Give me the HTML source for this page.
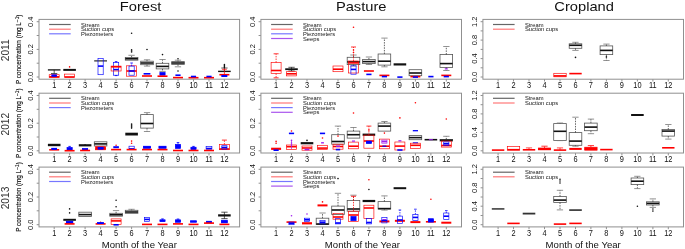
<!DOCTYPE html>
<html><head><meta charset="utf-8"><style>
html,body{margin:0;padding:0;background:#fff;overflow:hidden;}
svg{display:block;font-family:"Liberation Sans", sans-serif;will-change:transform;}
</style></head><body>
<svg width="685" height="249" viewBox="0 0 685 249" fill="#111">
<rect width="685" height="249" fill="#fff"/>
<text transform="translate(140.6,10.9) scale(1.08,1)" font-size="13.6" text-anchor="middle">Forest</text>
<text transform="translate(361.2,10.9) scale(1.08,1)" font-size="13.6" text-anchor="middle">Pasture</text>
<text transform="translate(584.1,10.9) scale(1.08,1)" font-size="13.6" text-anchor="middle">Cropland</text>
<text transform="translate(8.7,50.3) rotate(-90)" font-size="10.2" text-anchor="middle" fill="#333">2011</text>
<text transform="translate(21.2,49.3) rotate(-90)" font-size="6.35" text-anchor="middle" fill="#000" stroke="#000" stroke-width="0.12">P concentration (mg L<tspan dy="-2.4" font-size="4.8">−1</tspan><tspan dy="2.4">)</tspan></text>
<rect x="39.0" y="19.4" width="200.6" height="59.8" fill="none" stroke="#909090" stroke-width="1"/>
<line x1="36.7" y1="77.0" x2="39.0" y2="77.0" stroke="#909090"/>
<text transform="translate(32.8,77.0) rotate(-90)" font-size="7.5" text-anchor="middle">0.0</text>
<line x1="36.7" y1="63.2" x2="39.0" y2="63.2" stroke="#909090"/>
<line x1="36.7" y1="49.4" x2="39.0" y2="49.4" stroke="#909090"/>
<text transform="translate(32.8,49.4) rotate(-90)" font-size="7.5" text-anchor="middle">0.2</text>
<line x1="36.7" y1="35.5" x2="39.0" y2="35.5" stroke="#909090"/>
<line x1="36.7" y1="21.7" x2="39.0" y2="21.7" stroke="#909090"/>
<text transform="translate(32.8,21.7) rotate(-90)" font-size="7.5" text-anchor="middle">0.4</text>
<line x1="54.2" y1="79.2" x2="54.2" y2="81.5" stroke="#909090"/>
<text transform="translate(54.2,87.8) scale(1,1.15)" font-size="7.4" text-anchor="middle">1</text>
<line x1="69.6" y1="79.2" x2="69.6" y2="81.5" stroke="#909090"/>
<text transform="translate(69.6,87.8) scale(1,1.15)" font-size="7.4" text-anchor="middle">2</text>
<line x1="85.1" y1="79.2" x2="85.1" y2="81.5" stroke="#909090"/>
<text transform="translate(85.1,87.8) scale(1,1.15)" font-size="7.4" text-anchor="middle">3</text>
<line x1="100.6" y1="79.2" x2="100.6" y2="81.5" stroke="#909090"/>
<text transform="translate(100.6,87.8) scale(1,1.15)" font-size="7.4" text-anchor="middle">4</text>
<line x1="116.1" y1="79.2" x2="116.1" y2="81.5" stroke="#909090"/>
<text transform="translate(116.1,87.8) scale(1,1.15)" font-size="7.4" text-anchor="middle">5</text>
<line x1="131.6" y1="79.2" x2="131.6" y2="81.5" stroke="#909090"/>
<text transform="translate(131.6,87.8) scale(1,1.15)" font-size="7.4" text-anchor="middle">6</text>
<line x1="147.0" y1="79.2" x2="147.0" y2="81.5" stroke="#909090"/>
<text transform="translate(147.0,87.8) scale(1,1.15)" font-size="7.4" text-anchor="middle">7</text>
<line x1="162.5" y1="79.2" x2="162.5" y2="81.5" stroke="#909090"/>
<text transform="translate(162.5,87.8) scale(1,1.15)" font-size="7.4" text-anchor="middle">8</text>
<line x1="178.0" y1="79.2" x2="178.0" y2="81.5" stroke="#909090"/>
<text transform="translate(178.0,87.8) scale(1,1.15)" font-size="7.4" text-anchor="middle">9</text>
<line x1="193.5" y1="79.2" x2="193.5" y2="81.5" stroke="#909090"/>
<text transform="translate(193.5,87.8) scale(1,1.15)" font-size="7.4" text-anchor="middle">10</text>
<line x1="209.0" y1="79.2" x2="209.0" y2="81.5" stroke="#909090"/>
<text transform="translate(209.0,87.8) scale(1,1.15)" font-size="7.4" text-anchor="middle">11</text>
<line x1="224.4" y1="79.2" x2="224.4" y2="81.5" stroke="#909090"/>
<text transform="translate(224.4,87.8) scale(1,1.15)" font-size="7.4" text-anchor="middle">12</text>
<line x1="49.1" y1="24.5" x2="70.7" y2="24.5" stroke="#666" stroke-width="1.2"/>
<text transform="translate(81.0,26.5) scale(1,1.05)" font-size="5.8" fill="#111">Stream</text>
<line x1="49.1" y1="29.2" x2="70.7" y2="29.2" stroke="#f77" stroke-width="1.2"/>
<text transform="translate(81.0,31.2) scale(1,1.05)" font-size="5.8" fill="#111">Suction cups</text>
<line x1="49.1" y1="33.8" x2="70.7" y2="33.8" stroke="#77f" stroke-width="1.2"/>
<text transform="translate(81.0,35.8) scale(1,1.05)" font-size="5.8" fill="#111">Piezometers</text>
<rect x="260.9" y="19.4" width="200.6" height="59.8" fill="none" stroke="#909090" stroke-width="1"/>
<line x1="258.6" y1="77.0" x2="260.9" y2="77.0" stroke="#909090"/>
<text transform="translate(254.7,77.0) rotate(-90)" font-size="7.5" text-anchor="middle">0.0</text>
<line x1="258.6" y1="63.2" x2="260.9" y2="63.2" stroke="#909090"/>
<line x1="258.6" y1="49.4" x2="260.9" y2="49.4" stroke="#909090"/>
<text transform="translate(254.7,49.4) rotate(-90)" font-size="7.5" text-anchor="middle">0.2</text>
<line x1="258.6" y1="35.5" x2="260.9" y2="35.5" stroke="#909090"/>
<line x1="258.6" y1="21.7" x2="260.9" y2="21.7" stroke="#909090"/>
<text transform="translate(254.7,21.7) rotate(-90)" font-size="7.5" text-anchor="middle">0.4</text>
<line x1="276.1" y1="79.2" x2="276.1" y2="81.5" stroke="#909090"/>
<text transform="translate(276.1,87.8) scale(1,1.15)" font-size="7.4" text-anchor="middle">1</text>
<line x1="291.5" y1="79.2" x2="291.5" y2="81.5" stroke="#909090"/>
<text transform="translate(291.5,87.8) scale(1,1.15)" font-size="7.4" text-anchor="middle">2</text>
<line x1="307.0" y1="79.2" x2="307.0" y2="81.5" stroke="#909090"/>
<text transform="translate(307.0,87.8) scale(1,1.15)" font-size="7.4" text-anchor="middle">3</text>
<line x1="322.5" y1="79.2" x2="322.5" y2="81.5" stroke="#909090"/>
<text transform="translate(322.5,87.8) scale(1,1.15)" font-size="7.4" text-anchor="middle">4</text>
<line x1="338.0" y1="79.2" x2="338.0" y2="81.5" stroke="#909090"/>
<text transform="translate(338.0,87.8) scale(1,1.15)" font-size="7.4" text-anchor="middle">5</text>
<line x1="353.5" y1="79.2" x2="353.5" y2="81.5" stroke="#909090"/>
<text transform="translate(353.5,87.8) scale(1,1.15)" font-size="7.4" text-anchor="middle">6</text>
<line x1="368.9" y1="79.2" x2="368.9" y2="81.5" stroke="#909090"/>
<text transform="translate(368.9,87.8) scale(1,1.15)" font-size="7.4" text-anchor="middle">7</text>
<line x1="384.4" y1="79.2" x2="384.4" y2="81.5" stroke="#909090"/>
<text transform="translate(384.4,87.8) scale(1,1.15)" font-size="7.4" text-anchor="middle">8</text>
<line x1="399.9" y1="79.2" x2="399.9" y2="81.5" stroke="#909090"/>
<text transform="translate(399.9,87.8) scale(1,1.15)" font-size="7.4" text-anchor="middle">9</text>
<line x1="415.4" y1="79.2" x2="415.4" y2="81.5" stroke="#909090"/>
<text transform="translate(415.4,87.8) scale(1,1.15)" font-size="7.4" text-anchor="middle">10</text>
<line x1="430.9" y1="79.2" x2="430.9" y2="81.5" stroke="#909090"/>
<text transform="translate(430.9,87.8) scale(1,1.15)" font-size="7.4" text-anchor="middle">11</text>
<line x1="446.3" y1="79.2" x2="446.3" y2="81.5" stroke="#909090"/>
<text transform="translate(446.3,87.8) scale(1,1.15)" font-size="7.4" text-anchor="middle">12</text>
<line x1="271.1" y1="24.5" x2="292.7" y2="24.5" stroke="#666" stroke-width="1.2"/>
<text transform="translate(302.9,26.5) scale(1,1.05)" font-size="5.8" fill="#111">Stream</text>
<line x1="271.1" y1="29.2" x2="292.7" y2="29.2" stroke="#f77" stroke-width="1.2"/>
<text transform="translate(302.9,31.2) scale(1,1.05)" font-size="5.8" fill="#111">Suction cups</text>
<line x1="271.1" y1="33.8" x2="292.7" y2="33.8" stroke="#77f" stroke-width="1.2"/>
<text transform="translate(302.9,35.8) scale(1,1.05)" font-size="5.8" fill="#111">Piezometers</text>
<line x1="271.1" y1="38.5" x2="292.7" y2="38.5" stroke="#a5e" stroke-width="1.2"/>
<text transform="translate(302.9,40.5) scale(1,1.05)" font-size="5.8" fill="#111">Seeps</text>
<rect x="482.9" y="19.4" width="200.6" height="59.8" fill="none" stroke="#909090" stroke-width="1"/>
<line x1="480.6" y1="77.0" x2="482.9" y2="77.0" stroke="#909090"/>
<text transform="translate(476.7,77.0) rotate(-90)" font-size="7.5" text-anchor="middle">0.0</text>
<line x1="480.6" y1="67.8" x2="482.9" y2="67.8" stroke="#909090"/>
<line x1="480.6" y1="58.6" x2="482.9" y2="58.6" stroke="#909090"/>
<text transform="translate(476.7,58.6) rotate(-90)" font-size="7.5" text-anchor="middle">0.4</text>
<line x1="480.6" y1="49.4" x2="482.9" y2="49.4" stroke="#909090"/>
<line x1="480.6" y1="40.1" x2="482.9" y2="40.1" stroke="#909090"/>
<text transform="translate(476.7,40.1) rotate(-90)" font-size="7.5" text-anchor="middle">0.8</text>
<line x1="480.6" y1="30.9" x2="482.9" y2="30.9" stroke="#909090"/>
<line x1="480.6" y1="21.7" x2="482.9" y2="21.7" stroke="#909090"/>
<text transform="translate(476.7,21.7) rotate(-90)" font-size="7.5" text-anchor="middle">1.2</text>
<line x1="498.1" y1="79.2" x2="498.1" y2="81.5" stroke="#909090"/>
<text transform="translate(498.1,87.8) scale(1,1.15)" font-size="7.4" text-anchor="middle">1</text>
<line x1="513.5" y1="79.2" x2="513.5" y2="81.5" stroke="#909090"/>
<text transform="translate(513.5,87.8) scale(1,1.15)" font-size="7.4" text-anchor="middle">2</text>
<line x1="529.0" y1="79.2" x2="529.0" y2="81.5" stroke="#909090"/>
<text transform="translate(529.0,87.8) scale(1,1.15)" font-size="7.4" text-anchor="middle">3</text>
<line x1="544.5" y1="79.2" x2="544.5" y2="81.5" stroke="#909090"/>
<text transform="translate(544.5,87.8) scale(1,1.15)" font-size="7.4" text-anchor="middle">4</text>
<line x1="560.0" y1="79.2" x2="560.0" y2="81.5" stroke="#909090"/>
<text transform="translate(560.0,87.8) scale(1,1.15)" font-size="7.4" text-anchor="middle">5</text>
<line x1="575.5" y1="79.2" x2="575.5" y2="81.5" stroke="#909090"/>
<text transform="translate(575.5,87.8) scale(1,1.15)" font-size="7.4" text-anchor="middle">6</text>
<line x1="590.9" y1="79.2" x2="590.9" y2="81.5" stroke="#909090"/>
<text transform="translate(590.9,87.8) scale(1,1.15)" font-size="7.4" text-anchor="middle">7</text>
<line x1="606.4" y1="79.2" x2="606.4" y2="81.5" stroke="#909090"/>
<text transform="translate(606.4,87.8) scale(1,1.15)" font-size="7.4" text-anchor="middle">8</text>
<line x1="621.9" y1="79.2" x2="621.9" y2="81.5" stroke="#909090"/>
<text transform="translate(621.9,87.8) scale(1,1.15)" font-size="7.4" text-anchor="middle">9</text>
<line x1="637.4" y1="79.2" x2="637.4" y2="81.5" stroke="#909090"/>
<text transform="translate(637.4,87.8) scale(1,1.15)" font-size="7.4" text-anchor="middle">10</text>
<line x1="652.9" y1="79.2" x2="652.9" y2="81.5" stroke="#909090"/>
<text transform="translate(652.9,87.8) scale(1,1.15)" font-size="7.4" text-anchor="middle">11</text>
<line x1="668.3" y1="79.2" x2="668.3" y2="81.5" stroke="#909090"/>
<text transform="translate(668.3,87.8) scale(1,1.15)" font-size="7.4" text-anchor="middle">12</text>
<line x1="493.0" y1="24.5" x2="514.6" y2="24.5" stroke="#666" stroke-width="1.2"/>
<text transform="translate(524.9,26.5) scale(1,1.05)" font-size="5.8" fill="#111">Stream</text>
<line x1="493.0" y1="29.2" x2="514.6" y2="29.2" stroke="#f77" stroke-width="1.2"/>
<text transform="translate(524.9,31.2) scale(1,1.05)" font-size="5.8" fill="#111">Suction cups</text>
<text transform="translate(8.7,124.2) rotate(-90)" font-size="10.2" text-anchor="middle" fill="#333">2012</text>
<text transform="translate(21.2,123.2) rotate(-90)" font-size="6.35" text-anchor="middle" fill="#000" stroke="#000" stroke-width="0.12">P concentration (mg L<tspan dy="-2.4" font-size="4.8">−1</tspan><tspan dy="2.4">)</tspan></text>
<rect x="39.0" y="93.2" width="200.6" height="59.8" fill="none" stroke="#909090" stroke-width="1"/>
<line x1="36.7" y1="150.8" x2="39.0" y2="150.8" stroke="#909090"/>
<text transform="translate(32.8,150.8) rotate(-90)" font-size="7.5" text-anchor="middle">0.0</text>
<line x1="36.7" y1="137.0" x2="39.0" y2="137.0" stroke="#909090"/>
<line x1="36.7" y1="123.2" x2="39.0" y2="123.2" stroke="#909090"/>
<text transform="translate(32.8,123.2) rotate(-90)" font-size="7.5" text-anchor="middle">0.2</text>
<line x1="36.7" y1="109.3" x2="39.0" y2="109.3" stroke="#909090"/>
<line x1="36.7" y1="95.5" x2="39.0" y2="95.5" stroke="#909090"/>
<text transform="translate(32.8,95.5) rotate(-90)" font-size="7.5" text-anchor="middle">0.4</text>
<line x1="54.2" y1="153.1" x2="54.2" y2="155.4" stroke="#909090"/>
<text transform="translate(54.2,161.7) scale(1,1.15)" font-size="7.4" text-anchor="middle">1</text>
<line x1="69.6" y1="153.1" x2="69.6" y2="155.4" stroke="#909090"/>
<text transform="translate(69.6,161.7) scale(1,1.15)" font-size="7.4" text-anchor="middle">2</text>
<line x1="85.1" y1="153.1" x2="85.1" y2="155.4" stroke="#909090"/>
<text transform="translate(85.1,161.7) scale(1,1.15)" font-size="7.4" text-anchor="middle">3</text>
<line x1="100.6" y1="153.1" x2="100.6" y2="155.4" stroke="#909090"/>
<text transform="translate(100.6,161.7) scale(1,1.15)" font-size="7.4" text-anchor="middle">4</text>
<line x1="116.1" y1="153.1" x2="116.1" y2="155.4" stroke="#909090"/>
<text transform="translate(116.1,161.7) scale(1,1.15)" font-size="7.4" text-anchor="middle">5</text>
<line x1="131.6" y1="153.1" x2="131.6" y2="155.4" stroke="#909090"/>
<text transform="translate(131.6,161.7) scale(1,1.15)" font-size="7.4" text-anchor="middle">6</text>
<line x1="147.0" y1="153.1" x2="147.0" y2="155.4" stroke="#909090"/>
<text transform="translate(147.0,161.7) scale(1,1.15)" font-size="7.4" text-anchor="middle">7</text>
<line x1="162.5" y1="153.1" x2="162.5" y2="155.4" stroke="#909090"/>
<text transform="translate(162.5,161.7) scale(1,1.15)" font-size="7.4" text-anchor="middle">8</text>
<line x1="178.0" y1="153.1" x2="178.0" y2="155.4" stroke="#909090"/>
<text transform="translate(178.0,161.7) scale(1,1.15)" font-size="7.4" text-anchor="middle">9</text>
<line x1="193.5" y1="153.1" x2="193.5" y2="155.4" stroke="#909090"/>
<text transform="translate(193.5,161.7) scale(1,1.15)" font-size="7.4" text-anchor="middle">10</text>
<line x1="209.0" y1="153.1" x2="209.0" y2="155.4" stroke="#909090"/>
<text transform="translate(209.0,161.7) scale(1,1.15)" font-size="7.4" text-anchor="middle">11</text>
<line x1="224.4" y1="153.1" x2="224.4" y2="155.4" stroke="#909090"/>
<text transform="translate(224.4,161.7) scale(1,1.15)" font-size="7.4" text-anchor="middle">12</text>
<line x1="49.1" y1="98.3" x2="70.7" y2="98.3" stroke="#666" stroke-width="1.2"/>
<text transform="translate(81.0,100.3) scale(1,1.05)" font-size="5.8" fill="#111">Stream</text>
<line x1="49.1" y1="103.0" x2="70.7" y2="103.0" stroke="#f77" stroke-width="1.2"/>
<text transform="translate(81.0,105.0) scale(1,1.05)" font-size="5.8" fill="#111">Suction cups</text>
<line x1="49.1" y1="107.6" x2="70.7" y2="107.6" stroke="#77f" stroke-width="1.2"/>
<text transform="translate(81.0,109.6) scale(1,1.05)" font-size="5.8" fill="#111">Piezometers</text>
<rect x="260.9" y="93.2" width="200.6" height="59.8" fill="none" stroke="#909090" stroke-width="1"/>
<line x1="258.6" y1="150.8" x2="260.9" y2="150.8" stroke="#909090"/>
<text transform="translate(254.7,150.8) rotate(-90)" font-size="7.5" text-anchor="middle">0.0</text>
<line x1="258.6" y1="137.0" x2="260.9" y2="137.0" stroke="#909090"/>
<line x1="258.6" y1="123.2" x2="260.9" y2="123.2" stroke="#909090"/>
<text transform="translate(254.7,123.2) rotate(-90)" font-size="7.5" text-anchor="middle">0.2</text>
<line x1="258.6" y1="109.3" x2="260.9" y2="109.3" stroke="#909090"/>
<line x1="258.6" y1="95.5" x2="260.9" y2="95.5" stroke="#909090"/>
<text transform="translate(254.7,95.5) rotate(-90)" font-size="7.5" text-anchor="middle">0.4</text>
<line x1="276.1" y1="153.1" x2="276.1" y2="155.4" stroke="#909090"/>
<text transform="translate(276.1,161.7) scale(1,1.15)" font-size="7.4" text-anchor="middle">1</text>
<line x1="291.5" y1="153.1" x2="291.5" y2="155.4" stroke="#909090"/>
<text transform="translate(291.5,161.7) scale(1,1.15)" font-size="7.4" text-anchor="middle">2</text>
<line x1="307.0" y1="153.1" x2="307.0" y2="155.4" stroke="#909090"/>
<text transform="translate(307.0,161.7) scale(1,1.15)" font-size="7.4" text-anchor="middle">3</text>
<line x1="322.5" y1="153.1" x2="322.5" y2="155.4" stroke="#909090"/>
<text transform="translate(322.5,161.7) scale(1,1.15)" font-size="7.4" text-anchor="middle">4</text>
<line x1="338.0" y1="153.1" x2="338.0" y2="155.4" stroke="#909090"/>
<text transform="translate(338.0,161.7) scale(1,1.15)" font-size="7.4" text-anchor="middle">5</text>
<line x1="353.5" y1="153.1" x2="353.5" y2="155.4" stroke="#909090"/>
<text transform="translate(353.5,161.7) scale(1,1.15)" font-size="7.4" text-anchor="middle">6</text>
<line x1="368.9" y1="153.1" x2="368.9" y2="155.4" stroke="#909090"/>
<text transform="translate(368.9,161.7) scale(1,1.15)" font-size="7.4" text-anchor="middle">7</text>
<line x1="384.4" y1="153.1" x2="384.4" y2="155.4" stroke="#909090"/>
<text transform="translate(384.4,161.7) scale(1,1.15)" font-size="7.4" text-anchor="middle">8</text>
<line x1="399.9" y1="153.1" x2="399.9" y2="155.4" stroke="#909090"/>
<text transform="translate(399.9,161.7) scale(1,1.15)" font-size="7.4" text-anchor="middle">9</text>
<line x1="415.4" y1="153.1" x2="415.4" y2="155.4" stroke="#909090"/>
<text transform="translate(415.4,161.7) scale(1,1.15)" font-size="7.4" text-anchor="middle">10</text>
<line x1="430.9" y1="153.1" x2="430.9" y2="155.4" stroke="#909090"/>
<text transform="translate(430.9,161.7) scale(1,1.15)" font-size="7.4" text-anchor="middle">11</text>
<line x1="446.3" y1="153.1" x2="446.3" y2="155.4" stroke="#909090"/>
<text transform="translate(446.3,161.7) scale(1,1.15)" font-size="7.4" text-anchor="middle">12</text>
<line x1="271.1" y1="98.3" x2="292.7" y2="98.3" stroke="#666" stroke-width="1.2"/>
<text transform="translate(302.9,100.3) scale(1,1.05)" font-size="5.8" fill="#111">Stream</text>
<line x1="271.1" y1="103.0" x2="292.7" y2="103.0" stroke="#f77" stroke-width="1.2"/>
<text transform="translate(302.9,105.0) scale(1,1.05)" font-size="5.8" fill="#111">Suction cups</text>
<line x1="271.1" y1="107.6" x2="292.7" y2="107.6" stroke="#77f" stroke-width="1.2"/>
<text transform="translate(302.9,109.6) scale(1,1.05)" font-size="5.8" fill="#111">Piezometers</text>
<line x1="271.1" y1="112.3" x2="292.7" y2="112.3" stroke="#a5e" stroke-width="1.2"/>
<text transform="translate(302.9,114.3) scale(1,1.05)" font-size="5.8" fill="#111">Seeps</text>
<rect x="482.9" y="93.2" width="200.6" height="59.8" fill="none" stroke="#909090" stroke-width="1"/>
<line x1="480.6" y1="150.8" x2="482.9" y2="150.8" stroke="#909090"/>
<text transform="translate(476.7,150.8) rotate(-90)" font-size="7.5" text-anchor="middle">0.0</text>
<line x1="480.6" y1="141.6" x2="482.9" y2="141.6" stroke="#909090"/>
<line x1="480.6" y1="132.4" x2="482.9" y2="132.4" stroke="#909090"/>
<text transform="translate(476.7,132.4) rotate(-90)" font-size="7.5" text-anchor="middle">0.4</text>
<line x1="480.6" y1="123.2" x2="482.9" y2="123.2" stroke="#909090"/>
<line x1="480.6" y1="113.9" x2="482.9" y2="113.9" stroke="#909090"/>
<text transform="translate(476.7,113.9) rotate(-90)" font-size="7.5" text-anchor="middle">0.8</text>
<line x1="480.6" y1="104.7" x2="482.9" y2="104.7" stroke="#909090"/>
<line x1="480.6" y1="95.5" x2="482.9" y2="95.5" stroke="#909090"/>
<text transform="translate(476.7,95.5) rotate(-90)" font-size="7.5" text-anchor="middle">1.2</text>
<line x1="498.1" y1="153.1" x2="498.1" y2="155.4" stroke="#909090"/>
<text transform="translate(498.1,161.7) scale(1,1.15)" font-size="7.4" text-anchor="middle">1</text>
<line x1="513.5" y1="153.1" x2="513.5" y2="155.4" stroke="#909090"/>
<text transform="translate(513.5,161.7) scale(1,1.15)" font-size="7.4" text-anchor="middle">2</text>
<line x1="529.0" y1="153.1" x2="529.0" y2="155.4" stroke="#909090"/>
<text transform="translate(529.0,161.7) scale(1,1.15)" font-size="7.4" text-anchor="middle">3</text>
<line x1="544.5" y1="153.1" x2="544.5" y2="155.4" stroke="#909090"/>
<text transform="translate(544.5,161.7) scale(1,1.15)" font-size="7.4" text-anchor="middle">4</text>
<line x1="560.0" y1="153.1" x2="560.0" y2="155.4" stroke="#909090"/>
<text transform="translate(560.0,161.7) scale(1,1.15)" font-size="7.4" text-anchor="middle">5</text>
<line x1="575.5" y1="153.1" x2="575.5" y2="155.4" stroke="#909090"/>
<text transform="translate(575.5,161.7) scale(1,1.15)" font-size="7.4" text-anchor="middle">6</text>
<line x1="590.9" y1="153.1" x2="590.9" y2="155.4" stroke="#909090"/>
<text transform="translate(590.9,161.7) scale(1,1.15)" font-size="7.4" text-anchor="middle">7</text>
<line x1="606.4" y1="153.1" x2="606.4" y2="155.4" stroke="#909090"/>
<text transform="translate(606.4,161.7) scale(1,1.15)" font-size="7.4" text-anchor="middle">8</text>
<line x1="621.9" y1="153.1" x2="621.9" y2="155.4" stroke="#909090"/>
<text transform="translate(621.9,161.7) scale(1,1.15)" font-size="7.4" text-anchor="middle">9</text>
<line x1="637.4" y1="153.1" x2="637.4" y2="155.4" stroke="#909090"/>
<text transform="translate(637.4,161.7) scale(1,1.15)" font-size="7.4" text-anchor="middle">10</text>
<line x1="652.9" y1="153.1" x2="652.9" y2="155.4" stroke="#909090"/>
<text transform="translate(652.9,161.7) scale(1,1.15)" font-size="7.4" text-anchor="middle">11</text>
<line x1="668.3" y1="153.1" x2="668.3" y2="155.4" stroke="#909090"/>
<text transform="translate(668.3,161.7) scale(1,1.15)" font-size="7.4" text-anchor="middle">12</text>
<line x1="493.0" y1="98.3" x2="514.6" y2="98.3" stroke="#666" stroke-width="1.2"/>
<text transform="translate(524.9,100.3) scale(1,1.05)" font-size="5.8" fill="#111">Stream</text>
<line x1="493.0" y1="103.0" x2="514.6" y2="103.0" stroke="#f77" stroke-width="1.2"/>
<text transform="translate(524.9,105.0) scale(1,1.05)" font-size="5.8" fill="#111">Suction cups</text>
<text transform="translate(8.7,198.0) rotate(-90)" font-size="10.2" text-anchor="middle" fill="#333">2013</text>
<text transform="translate(21.2,197.0) rotate(-90)" font-size="6.35" text-anchor="middle" fill="#000" stroke="#000" stroke-width="0.12">P concentration (mg L<tspan dy="-2.4" font-size="4.8">−1</tspan><tspan dy="2.4">)</tspan></text>
<rect x="39.0" y="167.1" width="200.6" height="59.8" fill="none" stroke="#909090" stroke-width="1"/>
<line x1="36.7" y1="224.7" x2="39.0" y2="224.7" stroke="#909090"/>
<text transform="translate(32.8,224.7) rotate(-90)" font-size="7.5" text-anchor="middle">0.0</text>
<line x1="36.7" y1="210.8" x2="39.0" y2="210.8" stroke="#909090"/>
<line x1="36.7" y1="197.0" x2="39.0" y2="197.0" stroke="#909090"/>
<text transform="translate(32.8,197.0) rotate(-90)" font-size="7.5" text-anchor="middle">0.2</text>
<line x1="36.7" y1="183.2" x2="39.0" y2="183.2" stroke="#909090"/>
<line x1="36.7" y1="169.3" x2="39.0" y2="169.3" stroke="#909090"/>
<text transform="translate(32.8,169.3) rotate(-90)" font-size="7.5" text-anchor="middle">0.4</text>
<line x1="54.2" y1="226.9" x2="54.2" y2="229.2" stroke="#909090"/>
<text transform="translate(54.2,235.5) scale(1,1.15)" font-size="7.4" text-anchor="middle">1</text>
<line x1="69.6" y1="226.9" x2="69.6" y2="229.2" stroke="#909090"/>
<text transform="translate(69.6,235.5) scale(1,1.15)" font-size="7.4" text-anchor="middle">2</text>
<line x1="85.1" y1="226.9" x2="85.1" y2="229.2" stroke="#909090"/>
<text transform="translate(85.1,235.5) scale(1,1.15)" font-size="7.4" text-anchor="middle">3</text>
<line x1="100.6" y1="226.9" x2="100.6" y2="229.2" stroke="#909090"/>
<text transform="translate(100.6,235.5) scale(1,1.15)" font-size="7.4" text-anchor="middle">4</text>
<line x1="116.1" y1="226.9" x2="116.1" y2="229.2" stroke="#909090"/>
<text transform="translate(116.1,235.5) scale(1,1.15)" font-size="7.4" text-anchor="middle">5</text>
<line x1="131.6" y1="226.9" x2="131.6" y2="229.2" stroke="#909090"/>
<text transform="translate(131.6,235.5) scale(1,1.15)" font-size="7.4" text-anchor="middle">6</text>
<line x1="147.0" y1="226.9" x2="147.0" y2="229.2" stroke="#909090"/>
<text transform="translate(147.0,235.5) scale(1,1.15)" font-size="7.4" text-anchor="middle">7</text>
<line x1="162.5" y1="226.9" x2="162.5" y2="229.2" stroke="#909090"/>
<text transform="translate(162.5,235.5) scale(1,1.15)" font-size="7.4" text-anchor="middle">8</text>
<line x1="178.0" y1="226.9" x2="178.0" y2="229.2" stroke="#909090"/>
<text transform="translate(178.0,235.5) scale(1,1.15)" font-size="7.4" text-anchor="middle">9</text>
<line x1="193.5" y1="226.9" x2="193.5" y2="229.2" stroke="#909090"/>
<text transform="translate(193.5,235.5) scale(1,1.15)" font-size="7.4" text-anchor="middle">10</text>
<line x1="209.0" y1="226.9" x2="209.0" y2="229.2" stroke="#909090"/>
<text transform="translate(209.0,235.5) scale(1,1.15)" font-size="7.4" text-anchor="middle">11</text>
<line x1="224.4" y1="226.9" x2="224.4" y2="229.2" stroke="#909090"/>
<text transform="translate(224.4,235.5) scale(1,1.15)" font-size="7.4" text-anchor="middle">12</text>
<line x1="49.1" y1="172.2" x2="70.7" y2="172.2" stroke="#666" stroke-width="1.2"/>
<text transform="translate(81.0,174.2) scale(1,1.05)" font-size="5.8" fill="#111">Stream</text>
<line x1="49.1" y1="176.8" x2="70.7" y2="176.8" stroke="#f77" stroke-width="1.2"/>
<text transform="translate(81.0,178.8) scale(1,1.05)" font-size="5.8" fill="#111">Suction cups</text>
<line x1="49.1" y1="181.5" x2="70.7" y2="181.5" stroke="#77f" stroke-width="1.2"/>
<text transform="translate(81.0,183.5) scale(1,1.05)" font-size="5.8" fill="#111">Piezometers</text>
<rect x="260.9" y="167.1" width="200.6" height="59.8" fill="none" stroke="#909090" stroke-width="1"/>
<line x1="258.6" y1="224.7" x2="260.9" y2="224.7" stroke="#909090"/>
<text transform="translate(254.7,224.7) rotate(-90)" font-size="7.5" text-anchor="middle">0.0</text>
<line x1="258.6" y1="210.8" x2="260.9" y2="210.8" stroke="#909090"/>
<line x1="258.6" y1="197.0" x2="260.9" y2="197.0" stroke="#909090"/>
<text transform="translate(254.7,197.0) rotate(-90)" font-size="7.5" text-anchor="middle">0.2</text>
<line x1="258.6" y1="183.2" x2="260.9" y2="183.2" stroke="#909090"/>
<line x1="258.6" y1="169.3" x2="260.9" y2="169.3" stroke="#909090"/>
<text transform="translate(254.7,169.3) rotate(-90)" font-size="7.5" text-anchor="middle">0.4</text>
<line x1="276.1" y1="226.9" x2="276.1" y2="229.2" stroke="#909090"/>
<text transform="translate(276.1,235.5) scale(1,1.15)" font-size="7.4" text-anchor="middle">1</text>
<line x1="291.5" y1="226.9" x2="291.5" y2="229.2" stroke="#909090"/>
<text transform="translate(291.5,235.5) scale(1,1.15)" font-size="7.4" text-anchor="middle">2</text>
<line x1="307.0" y1="226.9" x2="307.0" y2="229.2" stroke="#909090"/>
<text transform="translate(307.0,235.5) scale(1,1.15)" font-size="7.4" text-anchor="middle">3</text>
<line x1="322.5" y1="226.9" x2="322.5" y2="229.2" stroke="#909090"/>
<text transform="translate(322.5,235.5) scale(1,1.15)" font-size="7.4" text-anchor="middle">4</text>
<line x1="338.0" y1="226.9" x2="338.0" y2="229.2" stroke="#909090"/>
<text transform="translate(338.0,235.5) scale(1,1.15)" font-size="7.4" text-anchor="middle">5</text>
<line x1="353.5" y1="226.9" x2="353.5" y2="229.2" stroke="#909090"/>
<text transform="translate(353.5,235.5) scale(1,1.15)" font-size="7.4" text-anchor="middle">6</text>
<line x1="368.9" y1="226.9" x2="368.9" y2="229.2" stroke="#909090"/>
<text transform="translate(368.9,235.5) scale(1,1.15)" font-size="7.4" text-anchor="middle">7</text>
<line x1="384.4" y1="226.9" x2="384.4" y2="229.2" stroke="#909090"/>
<text transform="translate(384.4,235.5) scale(1,1.15)" font-size="7.4" text-anchor="middle">8</text>
<line x1="399.9" y1="226.9" x2="399.9" y2="229.2" stroke="#909090"/>
<text transform="translate(399.9,235.5) scale(1,1.15)" font-size="7.4" text-anchor="middle">9</text>
<line x1="415.4" y1="226.9" x2="415.4" y2="229.2" stroke="#909090"/>
<text transform="translate(415.4,235.5) scale(1,1.15)" font-size="7.4" text-anchor="middle">10</text>
<line x1="430.9" y1="226.9" x2="430.9" y2="229.2" stroke="#909090"/>
<text transform="translate(430.9,235.5) scale(1,1.15)" font-size="7.4" text-anchor="middle">11</text>
<line x1="446.3" y1="226.9" x2="446.3" y2="229.2" stroke="#909090"/>
<text transform="translate(446.3,235.5) scale(1,1.15)" font-size="7.4" text-anchor="middle">12</text>
<line x1="271.1" y1="172.2" x2="292.7" y2="172.2" stroke="#666" stroke-width="1.2"/>
<text transform="translate(302.9,174.2) scale(1,1.05)" font-size="5.8" fill="#111">Stream</text>
<line x1="271.1" y1="176.8" x2="292.7" y2="176.8" stroke="#f77" stroke-width="1.2"/>
<text transform="translate(302.9,178.8) scale(1,1.05)" font-size="5.8" fill="#111">Suction cups</text>
<line x1="271.1" y1="181.5" x2="292.7" y2="181.5" stroke="#77f" stroke-width="1.2"/>
<text transform="translate(302.9,183.5) scale(1,1.05)" font-size="5.8" fill="#111">Piezometers</text>
<line x1="271.1" y1="186.1" x2="292.7" y2="186.1" stroke="#a5e" stroke-width="1.2"/>
<text transform="translate(302.9,188.1) scale(1,1.05)" font-size="5.8" fill="#111">Seeps</text>
<rect x="482.9" y="167.1" width="200.6" height="59.8" fill="none" stroke="#909090" stroke-width="1"/>
<line x1="480.6" y1="224.7" x2="482.9" y2="224.7" stroke="#909090"/>
<text transform="translate(476.7,224.7) rotate(-90)" font-size="7.5" text-anchor="middle">0.0</text>
<line x1="480.6" y1="215.5" x2="482.9" y2="215.5" stroke="#909090"/>
<line x1="480.6" y1="206.2" x2="482.9" y2="206.2" stroke="#909090"/>
<text transform="translate(476.7,206.2) rotate(-90)" font-size="7.5" text-anchor="middle">0.4</text>
<line x1="480.6" y1="197.0" x2="482.9" y2="197.0" stroke="#909090"/>
<line x1="480.6" y1="187.8" x2="482.9" y2="187.8" stroke="#909090"/>
<text transform="translate(476.7,187.8) rotate(-90)" font-size="7.5" text-anchor="middle">0.8</text>
<line x1="480.6" y1="178.5" x2="482.9" y2="178.5" stroke="#909090"/>
<line x1="480.6" y1="169.3" x2="482.9" y2="169.3" stroke="#909090"/>
<text transform="translate(476.7,169.3) rotate(-90)" font-size="7.5" text-anchor="middle">1.2</text>
<line x1="498.1" y1="226.9" x2="498.1" y2="229.2" stroke="#909090"/>
<text transform="translate(498.1,235.5) scale(1,1.15)" font-size="7.4" text-anchor="middle">1</text>
<line x1="513.5" y1="226.9" x2="513.5" y2="229.2" stroke="#909090"/>
<text transform="translate(513.5,235.5) scale(1,1.15)" font-size="7.4" text-anchor="middle">2</text>
<line x1="529.0" y1="226.9" x2="529.0" y2="229.2" stroke="#909090"/>
<text transform="translate(529.0,235.5) scale(1,1.15)" font-size="7.4" text-anchor="middle">3</text>
<line x1="544.5" y1="226.9" x2="544.5" y2="229.2" stroke="#909090"/>
<text transform="translate(544.5,235.5) scale(1,1.15)" font-size="7.4" text-anchor="middle">4</text>
<line x1="560.0" y1="226.9" x2="560.0" y2="229.2" stroke="#909090"/>
<text transform="translate(560.0,235.5) scale(1,1.15)" font-size="7.4" text-anchor="middle">5</text>
<line x1="575.5" y1="226.9" x2="575.5" y2="229.2" stroke="#909090"/>
<text transform="translate(575.5,235.5) scale(1,1.15)" font-size="7.4" text-anchor="middle">6</text>
<line x1="590.9" y1="226.9" x2="590.9" y2="229.2" stroke="#909090"/>
<text transform="translate(590.9,235.5) scale(1,1.15)" font-size="7.4" text-anchor="middle">7</text>
<line x1="606.4" y1="226.9" x2="606.4" y2="229.2" stroke="#909090"/>
<text transform="translate(606.4,235.5) scale(1,1.15)" font-size="7.4" text-anchor="middle">8</text>
<line x1="621.9" y1="226.9" x2="621.9" y2="229.2" stroke="#909090"/>
<text transform="translate(621.9,235.5) scale(1,1.15)" font-size="7.4" text-anchor="middle">9</text>
<line x1="637.4" y1="226.9" x2="637.4" y2="229.2" stroke="#909090"/>
<text transform="translate(637.4,235.5) scale(1,1.15)" font-size="7.4" text-anchor="middle">10</text>
<line x1="652.9" y1="226.9" x2="652.9" y2="229.2" stroke="#909090"/>
<text transform="translate(652.9,235.5) scale(1,1.15)" font-size="7.4" text-anchor="middle">11</text>
<line x1="668.3" y1="226.9" x2="668.3" y2="229.2" stroke="#909090"/>
<text transform="translate(668.3,235.5) scale(1,1.15)" font-size="7.4" text-anchor="middle">12</text>
<line x1="493.0" y1="172.2" x2="514.6" y2="172.2" stroke="#666" stroke-width="1.2"/>
<text transform="translate(524.9,174.2) scale(1,1.05)" font-size="5.8" fill="#111">Stream</text>
<line x1="493.0" y1="176.8" x2="514.6" y2="176.8" stroke="#f77" stroke-width="1.2"/>
<text transform="translate(524.9,178.8) scale(1,1.05)" font-size="5.8" fill="#111">Suction cups</text>
<line x1="47.9" y1="69.9" x2="60.5" y2="69.9" stroke="#111" stroke-width="1.3"/>
<line x1="54.2" y1="69.9" x2="54.2" y2="73.5" stroke="#111" stroke-width="0.7"/>
<line x1="51.0" y1="73.5" x2="57.3" y2="73.5" stroke="#111" stroke-width="0.7"/>
<rect x="49.2" y="74.7" width="10.0" height="2.8" fill="none" stroke="#f00" stroke-width="0.65"/>
<line x1="49.2" y1="76.8" x2="59.2" y2="76.8" stroke="#f00" stroke-width="1.6"/>
<rect x="51.8" y="74.9" width="4.8" height="1.4" fill="#00f" stroke="#00f" stroke-width="0.65"/>
<line x1="51.8" y1="75.6" x2="56.6" y2="75.6" stroke="#00f" stroke-width="1.6"/>
<line x1="63.3" y1="69.9" x2="75.9" y2="69.9" stroke="#111" stroke-width="2.0"/>
<rect x="64.6" y="74.1" width="10.0" height="3.0" fill="none" stroke="#f00" stroke-width="0.65"/>
<line x1="64.6" y1="77.0" x2="74.6" y2="77.0" stroke="#f00" stroke-width="1.6"/>
<circle cx="69.6" cy="66.9" r="0.8" fill="#f00"/>
<line x1="94.2" y1="60.9" x2="107.0" y2="60.9" stroke="#111" stroke-width="1.1"/>
<rect x="98.0" y="58.6" width="5.2" height="16.1" fill="none" stroke="#00f" stroke-width="0.65"/>
<line x1="98.0" y1="66.1" x2="103.2" y2="66.1" stroke="#00f" stroke-width="1.6"/>
<rect x="113.5" y="62.6" width="5.2" height="12.6" fill="none" stroke="#00f" stroke-width="0.65"/>
<line x1="113.5" y1="69.6" x2="118.7" y2="69.6" stroke="#00f" stroke-width="1.6"/>
<line x1="116.1" y1="62.6" x2="116.1" y2="61.6" stroke="#00f" stroke-width="0.75" stroke-dasharray="1.5 1.1"/>
<line x1="114.8" y1="61.6" x2="117.4" y2="61.6" stroke="#00f" stroke-width="0.8"/>
<line x1="116.1" y1="75.2" x2="116.1" y2="75.6" stroke="#00f" stroke-width="0.75" stroke-dasharray="1.5 1.1"/>
<line x1="114.8" y1="75.6" x2="117.4" y2="75.6" stroke="#00f" stroke-width="0.8"/>
<rect x="111.1" y="66.1" width="10.0" height="4.9" fill="none" stroke="#f00" stroke-width="0.65"/>
<line x1="111.1" y1="66.8" x2="121.1" y2="66.8" stroke="#f00" stroke-width="1.6"/>
<rect x="125.3" y="57.4" width="12.6" height="2.8" fill="none" stroke="#555" stroke-width="0.8"/>
<line x1="125.3" y1="58.8" x2="137.9" y2="58.8" stroke="#111" stroke-width="1.6"/>
<line x1="131.6" y1="57.4" x2="131.6" y2="55.3" stroke="#333" stroke-width="0.75" stroke-dasharray="1.5 1.1"/>
<line x1="128.4" y1="55.3" x2="134.7" y2="55.3" stroke="#777" stroke-width="0.8"/>
<circle cx="131.6" cy="49.9" r="0.8" fill="#111"/>
<circle cx="131.6" cy="51.0" r="0.8" fill="#111"/>
<circle cx="131.6" cy="52.0" r="0.8" fill="#111"/>
<circle cx="131.6" cy="33.2" r="0.8" fill="#111"/>
<rect x="126.6" y="65.8" width="10.0" height="10.4" fill="none" stroke="#f00" stroke-width="0.65"/>
<line x1="126.6" y1="71.0" x2="136.6" y2="71.0" stroke="#f00" stroke-width="1.6"/>
<rect x="129.0" y="66.1" width="5.2" height="9.1" fill="none" stroke="#00f" stroke-width="0.65"/>
<line x1="129.0" y1="71.0" x2="134.2" y2="71.0" stroke="#00f" stroke-width="1.6"/>
<line x1="131.6" y1="66.1" x2="131.6" y2="63.0" stroke="#00f" stroke-width="0.75" stroke-dasharray="1.5 1.1"/>
<line x1="130.3" y1="63.0" x2="132.9" y2="63.0" stroke="#00f" stroke-width="0.8"/>
<rect x="140.7" y="61.2" width="12.6" height="3.5" fill="none" stroke="#555" stroke-width="0.8"/>
<line x1="140.7" y1="63.0" x2="153.3" y2="63.0" stroke="#111" stroke-width="1.6"/>
<line x1="147.0" y1="61.2" x2="147.0" y2="59.8" stroke="#333" stroke-width="0.75" stroke-dasharray="1.5 1.1"/>
<line x1="143.9" y1="59.8" x2="150.2" y2="59.8" stroke="#777" stroke-width="0.8"/>
<line x1="147.0" y1="64.7" x2="147.0" y2="66.1" stroke="#333" stroke-width="0.75" stroke-dasharray="1.5 1.1"/>
<line x1="143.9" y1="66.1" x2="150.2" y2="66.1" stroke="#777" stroke-width="0.8"/>
<circle cx="147.0" cy="49.5" r="0.8" fill="#111"/>
<line x1="143.6" y1="73.8" x2="150.4" y2="73.8" stroke="#00f" stroke-width="1.6"/>
<line x1="142.0" y1="76.0" x2="152.0" y2="76.0" stroke="#f00" stroke-width="1.6"/>
<rect x="156.2" y="63.3" width="12.6" height="5.6" fill="none" stroke="#555" stroke-width="0.8"/>
<line x1="156.2" y1="66.4" x2="168.8" y2="66.4" stroke="#111" stroke-width="1.6"/>
<line x1="162.5" y1="63.3" x2="162.5" y2="59.5" stroke="#333" stroke-width="0.75" stroke-dasharray="1.5 1.1"/>
<line x1="159.4" y1="59.5" x2="165.7" y2="59.5" stroke="#777" stroke-width="0.8"/>
<line x1="162.5" y1="68.9" x2="162.5" y2="71.4" stroke="#333" stroke-width="0.75" stroke-dasharray="1.5 1.1"/>
<line x1="159.4" y1="71.4" x2="165.7" y2="71.4" stroke="#777" stroke-width="0.8"/>
<circle cx="162.5" cy="54.6" r="0.8" fill="#111"/>
<rect x="159.9" y="72.4" width="5.2" height="2.8" fill="#00f" stroke="#00f" stroke-width="0.65"/>
<line x1="159.9" y1="74.0" x2="165.1" y2="74.0" stroke="#00f" stroke-width="1.6"/>
<line x1="157.5" y1="76.2" x2="167.5" y2="76.2" stroke="#f00" stroke-width="1.6"/>
<rect x="171.7" y="61.6" width="12.6" height="2.8" fill="none" stroke="#555" stroke-width="0.8"/>
<line x1="171.7" y1="63.0" x2="184.3" y2="63.0" stroke="#111" stroke-width="1.6"/>
<line x1="178.0" y1="61.6" x2="178.0" y2="60.2" stroke="#333" stroke-width="0.75" stroke-dasharray="1.5 1.1"/>
<line x1="174.8" y1="60.2" x2="181.1" y2="60.2" stroke="#777" stroke-width="0.8"/>
<line x1="178.0" y1="64.4" x2="178.0" y2="66.8" stroke="#333" stroke-width="0.75" stroke-dasharray="1.5 1.1"/>
<line x1="174.8" y1="66.8" x2="181.1" y2="66.8" stroke="#777" stroke-width="0.8"/>
<circle cx="178.0" cy="58.8" r="0.8" fill="#111"/>
<circle cx="178.0" cy="71.0" r="0.8" fill="#111"/>
<line x1="175.4" y1="75.2" x2="180.6" y2="75.2" stroke="#00f" stroke-width="1.6"/>
<line x1="173.0" y1="77.6" x2="183.0" y2="77.6" stroke="#f00" stroke-width="1.6"/>
<line x1="188.5" y1="77.7" x2="198.5" y2="77.7" stroke="#f00" stroke-width="1.6"/>
<line x1="190.9" y1="76.5" x2="196.1" y2="76.5" stroke="#00f" stroke-width="1.6"/>
<line x1="204.0" y1="77.7" x2="214.0" y2="77.7" stroke="#f00" stroke-width="1.6"/>
<line x1="206.4" y1="76.5" x2="211.6" y2="76.5" stroke="#00f" stroke-width="1.6"/>
<line x1="218.1" y1="71.4" x2="230.7" y2="71.4" stroke="#111" stroke-width="1.4"/>
<line x1="224.4" y1="71.4" x2="224.4" y2="68.0" stroke="#111" stroke-width="0.7"/>
<line x1="221.3" y1="68.0" x2="227.6" y2="68.0" stroke="#111" stroke-width="0.7"/>
<circle cx="224.4" cy="64.5" r="0.8" fill="#111"/>
<circle cx="224.4" cy="65.5" r="0.8" fill="#111"/>
<circle cx="224.4" cy="66.5" r="0.8" fill="#111"/>
<circle cx="224.4" cy="67.5" r="0.8" fill="#111"/>
<line x1="219.4" y1="74.7" x2="229.4" y2="74.7" stroke="#f00" stroke-width="1.6"/>
<line x1="224.4" y1="74.7" x2="224.4" y2="69.3" stroke="#f00" stroke-width="0.7"/>
<line x1="221.9" y1="69.3" x2="226.9" y2="69.3" stroke="#f00" stroke-width="0.7"/>
<rect x="221.8" y="75.3" width="5.2" height="1.4" fill="#00f" stroke="#00f" stroke-width="0.65"/>
<line x1="221.8" y1="76.0" x2="227.0" y2="76.0" stroke="#00f" stroke-width="1.6"/>
<rect x="271.1" y="62.6" width="10.0" height="10.8" fill="none" stroke="#f00" stroke-width="0.65"/>
<line x1="271.1" y1="70.5" x2="281.1" y2="70.5" stroke="#f00" stroke-width="1.6"/>
<line x1="276.1" y1="62.6" x2="276.1" y2="53.8" stroke="#f00" stroke-width="0.75" stroke-dasharray="1.5 1.1"/>
<line x1="273.6" y1="53.8" x2="278.6" y2="53.8" stroke="#f00" stroke-width="0.8"/>
<line x1="276.1" y1="73.4" x2="276.1" y2="77.8" stroke="#f00" stroke-width="0.75" stroke-dasharray="1.5 1.1"/>
<line x1="273.6" y1="77.8" x2="278.6" y2="77.8" stroke="#f00" stroke-width="0.8"/>
<line x1="285.2" y1="69.2" x2="297.8" y2="69.2" stroke="#111" stroke-width="1.8"/>
<line x1="291.5" y1="69.2" x2="291.5" y2="67.3" stroke="#111" stroke-width="0.7"/>
<line x1="288.4" y1="67.3" x2="294.7" y2="67.3" stroke="#111" stroke-width="0.7"/>
<line x1="291.5" y1="69.2" x2="291.5" y2="71.0" stroke="#111" stroke-width="0.7"/>
<line x1="288.4" y1="71.0" x2="294.7" y2="71.0" stroke="#111" stroke-width="0.7"/>
<rect x="286.5" y="71.7" width="10.0" height="4.2" fill="none" stroke="#f00" stroke-width="0.65"/>
<line x1="286.5" y1="73.8" x2="296.5" y2="73.8" stroke="#f00" stroke-width="1.6"/>
<rect x="333.0" y="66.0" width="10.0" height="5.7" fill="none" stroke="#f00" stroke-width="0.65"/>
<line x1="333.0" y1="69.2" x2="343.0" y2="69.2" stroke="#f00" stroke-width="1.6"/>
<rect x="347.2" y="57.3" width="12.6" height="7.3" fill="none" stroke="#555" stroke-width="0.8"/>
<line x1="347.2" y1="61.9" x2="359.8" y2="61.9" stroke="#111" stroke-width="1.6"/>
<line x1="353.5" y1="57.3" x2="353.5" y2="55.0" stroke="#333" stroke-width="0.75" stroke-dasharray="1.5 1.1"/>
<line x1="350.3" y1="55.0" x2="356.6" y2="55.0" stroke="#777" stroke-width="0.8"/>
<line x1="353.5" y1="64.6" x2="353.5" y2="66.0" stroke="#333" stroke-width="0.75" stroke-dasharray="1.5 1.1"/>
<line x1="350.3" y1="66.0" x2="356.6" y2="66.0" stroke="#777" stroke-width="0.8"/>
<rect x="348.5" y="61.0" width="10.0" height="12.0" fill="none" stroke="#f00" stroke-width="0.65"/>
<line x1="348.5" y1="62.9" x2="358.5" y2="62.9" stroke="#f00" stroke-width="1.6"/>
<line x1="353.5" y1="61.0" x2="353.5" y2="47.0" stroke="#f00" stroke-width="0.75" stroke-dasharray="1.5 1.1"/>
<line x1="351.0" y1="47.0" x2="356.0" y2="47.0" stroke="#f00" stroke-width="0.8"/>
<circle cx="353.5" cy="27.2" r="0.8" fill="#f00"/>
<circle cx="353.5" cy="50.0" r="0.8" fill="#f00"/>
<circle cx="353.5" cy="52.5" r="0.8" fill="#f00"/>
<rect x="350.9" y="65.8" width="5.2" height="8.4" fill="none" stroke="#00f" stroke-width="0.65"/>
<line x1="350.9" y1="69.4" x2="356.1" y2="69.4" stroke="#00f" stroke-width="1.6"/>
<rect x="362.6" y="59.4" width="12.6" height="4.2" fill="none" stroke="#555" stroke-width="0.8"/>
<line x1="362.6" y1="61.6" x2="375.2" y2="61.6" stroke="#111" stroke-width="1.6"/>
<line x1="368.9" y1="59.4" x2="368.9" y2="57.0" stroke="#333" stroke-width="0.75" stroke-dasharray="1.5 1.1"/>
<line x1="365.8" y1="57.0" x2="372.1" y2="57.0" stroke="#777" stroke-width="0.8"/>
<line x1="368.9" y1="63.6" x2="368.9" y2="64.5" stroke="#333" stroke-width="0.75" stroke-dasharray="1.5 1.1"/>
<line x1="365.8" y1="64.5" x2="372.1" y2="64.5" stroke="#777" stroke-width="0.8"/>
<line x1="363.9" y1="71.0" x2="373.9" y2="71.0" stroke="#f00" stroke-width="1.6"/>
<line x1="366.3" y1="74.4" x2="371.5" y2="74.4" stroke="#00f" stroke-width="1.6"/>
<rect x="378.1" y="54.0" width="12.6" height="11.1" fill="none" stroke="#555" stroke-width="0.8"/>
<line x1="378.1" y1="61.2" x2="390.7" y2="61.2" stroke="#111" stroke-width="1.6"/>
<line x1="384.4" y1="54.0" x2="384.4" y2="38.1" stroke="#333" stroke-width="0.75" stroke-dasharray="1.5 1.1"/>
<line x1="381.3" y1="38.1" x2="387.6" y2="38.1" stroke="#777" stroke-width="0.8"/>
<line x1="384.4" y1="65.1" x2="384.4" y2="66.8" stroke="#333" stroke-width="0.75" stroke-dasharray="1.5 1.1"/>
<line x1="381.3" y1="66.8" x2="387.6" y2="66.8" stroke="#777" stroke-width="0.8"/>
<line x1="379.4" y1="75.4" x2="389.4" y2="75.4" stroke="#f00" stroke-width="1.6"/>
<line x1="381.8" y1="76.6" x2="387.0" y2="76.6" stroke="#00f" stroke-width="1.6"/>
<line x1="393.6" y1="64.4" x2="406.2" y2="64.4" stroke="#111" stroke-width="2.2"/>
<line x1="397.3" y1="77.1" x2="402.5" y2="77.1" stroke="#00f" stroke-width="1.6"/>
<rect x="409.1" y="69.7" width="12.6" height="6.0" fill="none" stroke="#555" stroke-width="0.8"/>
<line x1="409.1" y1="73.0" x2="421.7" y2="73.0" stroke="#111" stroke-width="1.6"/>
<line x1="410.4" y1="76.6" x2="420.4" y2="76.6" stroke="#f00" stroke-width="1.6"/>
<line x1="412.8" y1="77.1" x2="418.0" y2="77.1" stroke="#00f" stroke-width="1.6"/>
<line x1="428.3" y1="76.6" x2="433.5" y2="76.6" stroke="#00f" stroke-width="1.6"/>
<rect x="440.0" y="54.5" width="12.6" height="13.0" fill="none" stroke="#555" stroke-width="0.8"/>
<line x1="440.0" y1="63.6" x2="452.6" y2="63.6" stroke="#111" stroke-width="1.6"/>
<line x1="446.3" y1="54.5" x2="446.3" y2="46.5" stroke="#333" stroke-width="0.75" stroke-dasharray="1.5 1.1"/>
<line x1="443.2" y1="46.5" x2="449.5" y2="46.5" stroke="#777" stroke-width="0.8"/>
<line x1="446.3" y1="67.5" x2="446.3" y2="70.5" stroke="#333" stroke-width="0.75" stroke-dasharray="1.5 1.1"/>
<line x1="443.2" y1="70.5" x2="449.5" y2="70.5" stroke="#777" stroke-width="0.8"/>
<line x1="444.8" y1="68.9" x2="447.8" y2="68.9" stroke="#a020f0" stroke-width="1.2"/>
<line x1="441.3" y1="75.4" x2="451.3" y2="75.4" stroke="#f00" stroke-width="1.6"/>
<line x1="443.7" y1="76.6" x2="448.9" y2="76.6" stroke="#00f" stroke-width="1.6"/>
<rect x="553.8" y="73.3" width="12.4" height="3.5" fill="none" stroke="#f00" stroke-width="0.65"/>
<line x1="553.8" y1="75.9" x2="566.2" y2="75.9" stroke="#f00" stroke-width="1.6"/>
<rect x="569.2" y="43.8" width="12.6" height="4.5" fill="none" stroke="#555" stroke-width="0.8"/>
<line x1="569.2" y1="45.3" x2="581.8" y2="45.3" stroke="#111" stroke-width="1.6"/>
<line x1="575.5" y1="43.8" x2="575.5" y2="42.3" stroke="#333" stroke-width="0.75" stroke-dasharray="1.5 1.1"/>
<line x1="572.3" y1="42.3" x2="578.6" y2="42.3" stroke="#777" stroke-width="0.8"/>
<line x1="575.5" y1="48.3" x2="575.5" y2="50.4" stroke="#333" stroke-width="0.75" stroke-dasharray="1.5 1.1"/>
<line x1="572.3" y1="50.4" x2="578.6" y2="50.4" stroke="#777" stroke-width="0.8"/>
<circle cx="575.5" cy="57.4" r="0.8" fill="#111"/>
<line x1="569.3" y1="73.6" x2="581.7" y2="73.6" stroke="#f00" stroke-width="1.6"/>
<rect x="600.1" y="45.9" width="12.6" height="8.7" fill="none" stroke="#555" stroke-width="0.8"/>
<line x1="600.1" y1="50.4" x2="612.7" y2="50.4" stroke="#111" stroke-width="1.6"/>
<line x1="606.4" y1="45.9" x2="606.4" y2="44.1" stroke="#333" stroke-width="0.75" stroke-dasharray="1.5 1.1"/>
<line x1="603.3" y1="44.1" x2="609.6" y2="44.1" stroke="#777" stroke-width="0.8"/>
<line x1="606.4" y1="54.6" x2="606.4" y2="60.5" stroke="#333" stroke-width="0.75" stroke-dasharray="1.5 1.1"/>
<line x1="603.3" y1="60.5" x2="609.6" y2="60.5" stroke="#777" stroke-width="0.8"/>
<circle cx="606.4" cy="56.9" r="0.8" fill="#111"/>
<line x1="47.9" y1="145.0" x2="60.5" y2="145.0" stroke="#111" stroke-width="2.4"/>
<line x1="49.2" y1="149.8" x2="59.2" y2="149.8" stroke="#f00" stroke-width="1.6"/>
<rect x="51.7" y="148.2" width="5.0" height="1.2" fill="#00f" stroke="#00f" stroke-width="0.65"/>
<line x1="51.7" y1="148.8" x2="56.7" y2="148.8" stroke="#00f" stroke-width="1.6"/>
<rect x="67.0" y="147.4" width="5.2" height="2.6" fill="#00f" stroke="#00f" stroke-width="0.65"/>
<line x1="67.0" y1="148.7" x2="72.2" y2="148.7" stroke="#00f" stroke-width="1.6"/>
<line x1="69.6" y1="147.4" x2="69.6" y2="146.4" stroke="#00f" stroke-width="0.75" stroke-dasharray="1.5 1.1"/>
<line x1="68.3" y1="146.4" x2="70.9" y2="146.4" stroke="#00f" stroke-width="0.8"/>
<line x1="64.6" y1="150.7" x2="74.6" y2="150.7" stroke="#f00" stroke-width="1.6"/>
<line x1="78.8" y1="145.3" x2="91.4" y2="145.3" stroke="#111" stroke-width="2.2"/>
<circle cx="85.1" cy="145.0" r="0.8" fill="#111"/>
<rect x="82.5" y="148.6" width="5.2" height="1.4" fill="#00f" stroke="#00f" stroke-width="0.65"/>
<line x1="82.5" y1="149.3" x2="87.7" y2="149.3" stroke="#00f" stroke-width="1.6"/>
<line x1="80.1" y1="150.5" x2="90.1" y2="150.5" stroke="#f00" stroke-width="1.6"/>
<rect x="94.3" y="141.8" width="12.6" height="4.2" fill="none" stroke="#555" stroke-width="0.8"/>
<line x1="94.3" y1="143.9" x2="106.9" y2="143.9" stroke="#111" stroke-width="1.6"/>
<rect x="95.6" y="146.7" width="10.0" height="3.1" fill="#f00" stroke="#f00" stroke-width="0.65"/>
<line x1="95.6" y1="148.5" x2="105.6" y2="148.5" stroke="#f00" stroke-width="1.6"/>
<rect x="98.0" y="147.2" width="5.2" height="2.0" fill="#00f" stroke="#00f" stroke-width="0.65"/>
<line x1="98.0" y1="148.2" x2="103.2" y2="148.2" stroke="#00f" stroke-width="1.6"/>
<line x1="113.3" y1="147.2" x2="118.9" y2="147.2" stroke="#00f" stroke-width="2.0"/>
<line x1="111.1" y1="149.6" x2="121.1" y2="149.6" stroke="#f00" stroke-width="1.6"/>
<circle cx="116.1" cy="145.2" r="0.8" fill="#f00"/>
<line x1="125.3" y1="134.1" x2="137.9" y2="134.1" stroke="#111" stroke-width="2.8"/>
<circle cx="131.6" cy="124.1" r="0.8" fill="#111"/>
<circle cx="131.6" cy="125.1" r="0.8" fill="#111"/>
<circle cx="131.6" cy="126.1" r="0.8" fill="#111"/>
<circle cx="131.6" cy="127.1" r="0.8" fill="#111"/>
<circle cx="131.6" cy="128.1" r="0.8" fill="#111"/>
<rect x="129.0" y="146.2" width="5.2" height="3.4" fill="none" stroke="#00f" stroke-width="0.65"/>
<line x1="129.0" y1="148.9" x2="134.2" y2="148.9" stroke="#00f" stroke-width="1.6"/>
<line x1="126.6" y1="149.6" x2="136.6" y2="149.6" stroke="#f00" stroke-width="1.6"/>
<circle cx="131.6" cy="141.1" r="0.8" fill="#f00"/>
<circle cx="131.6" cy="143.2" r="0.8" fill="#f00"/>
<rect x="140.7" y="114.6" width="12.6" height="13.5" fill="none" stroke="#555" stroke-width="0.8"/>
<line x1="140.7" y1="123.5" x2="153.3" y2="123.5" stroke="#111" stroke-width="1.6"/>
<line x1="147.0" y1="114.6" x2="147.0" y2="112.6" stroke="#333" stroke-width="0.75" stroke-dasharray="1.5 1.1"/>
<line x1="143.9" y1="112.6" x2="150.2" y2="112.6" stroke="#777" stroke-width="0.8"/>
<line x1="147.0" y1="128.1" x2="147.0" y2="131.5" stroke="#333" stroke-width="0.75" stroke-dasharray="1.5 1.1"/>
<line x1="143.9" y1="131.5" x2="150.2" y2="131.5" stroke="#777" stroke-width="0.8"/>
<rect x="143.4" y="146.2" width="7.2" height="2.2" fill="#00f" stroke="#00f" stroke-width="0.65"/>
<line x1="143.4" y1="147.2" x2="150.6" y2="147.2" stroke="#00f" stroke-width="1.6"/>
<line x1="142.0" y1="149.6" x2="152.0" y2="149.6" stroke="#f00" stroke-width="1.6"/>
<rect x="158.9" y="146.2" width="7.2" height="2.2" fill="#00f" stroke="#00f" stroke-width="0.65"/>
<line x1="158.9" y1="147.2" x2="166.1" y2="147.2" stroke="#00f" stroke-width="1.6"/>
<line x1="157.5" y1="149.6" x2="167.5" y2="149.6" stroke="#f00" stroke-width="1.6"/>
<rect x="175.4" y="144.3" width="5.2" height="4.2" fill="#00f" stroke="#00f" stroke-width="0.65"/>
<line x1="175.4" y1="146.4" x2="180.6" y2="146.4" stroke="#00f" stroke-width="1.6"/>
<line x1="178.0" y1="144.3" x2="178.0" y2="142.5" stroke="#00f" stroke-width="0.75" stroke-dasharray="1.5 1.1"/>
<line x1="176.7" y1="142.5" x2="179.3" y2="142.5" stroke="#00f" stroke-width="0.8"/>
<line x1="173.0" y1="150.5" x2="183.0" y2="150.5" stroke="#f00" stroke-width="1.6"/>
<rect x="190.9" y="147.2" width="5.2" height="2.4" fill="#00f" stroke="#00f" stroke-width="0.65"/>
<line x1="190.9" y1="148.5" x2="196.1" y2="148.5" stroke="#00f" stroke-width="1.6"/>
<line x1="193.5" y1="147.2" x2="193.5" y2="146.4" stroke="#00f" stroke-width="0.75" stroke-dasharray="1.5 1.1"/>
<line x1="192.2" y1="146.4" x2="194.8" y2="146.4" stroke="#00f" stroke-width="0.8"/>
<line x1="188.5" y1="150.5" x2="198.5" y2="150.5" stroke="#f00" stroke-width="1.6"/>
<rect x="206.1" y="146.4" width="5.8" height="2.7" fill="none" stroke="#00f" stroke-width="0.65"/>
<line x1="206.1" y1="148.5" x2="211.9" y2="148.5" stroke="#00f" stroke-width="1.6"/>
<line x1="204.0" y1="150.5" x2="214.0" y2="150.5" stroke="#f00" stroke-width="1.6"/>
<rect x="219.4" y="144.5" width="10.0" height="5.2" fill="none" stroke="#f00" stroke-width="0.65"/>
<line x1="219.4" y1="149.0" x2="229.4" y2="149.0" stroke="#f00" stroke-width="1.6"/>
<line x1="224.4" y1="144.5" x2="224.4" y2="140.1" stroke="#f00" stroke-width="0.75" stroke-dasharray="1.5 1.1"/>
<line x1="221.9" y1="140.1" x2="226.9" y2="140.1" stroke="#f00" stroke-width="0.8"/>
<rect x="221.8" y="145.7" width="5.2" height="3.4" fill="none" stroke="#00f" stroke-width="0.65"/>
<line x1="221.8" y1="147.4" x2="227.0" y2="147.4" stroke="#00f" stroke-width="1.6"/>
<line x1="271.1" y1="148.8" x2="281.1" y2="148.8" stroke="#f00" stroke-width="2.2"/>
<circle cx="276.1" cy="141.4" r="0.8" fill="#f00"/>
<circle cx="276.1" cy="143.2" r="0.8" fill="#f00"/>
<line x1="273.5" y1="150.2" x2="278.7" y2="150.2" stroke="#00f" stroke-width="1.6"/>
<rect x="286.5" y="145.0" width="10.0" height="4.5" fill="none" stroke="#f00" stroke-width="0.65"/>
<line x1="286.5" y1="146.7" x2="296.5" y2="146.7" stroke="#f00" stroke-width="1.6"/>
<circle cx="291.5" cy="131.0" r="0.8" fill="#f00"/>
<line x1="288.9" y1="133.4" x2="294.1" y2="133.4" stroke="#00f" stroke-width="1.6"/>
<line x1="291.4" y1="149.0" x2="291.6" y2="149.0" stroke="#a020f0" stroke-width="0.1"/>
<line x1="291.5" y1="149.0" x2="291.5" y2="140.4" stroke="#a020f0" stroke-width="0.7"/>
<line x1="291.5" y1="140.4" x2="291.6" y2="140.4" stroke="#a020f0" stroke-width="0.7"/>
<circle cx="291.5" cy="140.4" r="0.8" fill="#a020f0"/>
<circle cx="291.5" cy="143.0" r="0.8" fill="#a020f0"/>
<circle cx="291.5" cy="145.0" r="0.8" fill="#a020f0"/>
<line x1="300.7" y1="143.2" x2="313.3" y2="143.2" stroke="#111" stroke-width="2.2"/>
<circle cx="307.0" cy="140.4" r="0.8" fill="#111"/>
<rect x="302.0" y="146.0" width="10.0" height="4.2" fill="none" stroke="#f00" stroke-width="0.65"/>
<line x1="302.0" y1="148.0" x2="312.0" y2="148.0" stroke="#f00" stroke-width="1.6"/>
<line x1="304.6" y1="149.5" x2="309.4" y2="149.5" stroke="#a020f0" stroke-width="1.6"/>
<rect x="317.5" y="145.3" width="10.0" height="4.2" fill="none" stroke="#f00" stroke-width="0.65"/>
<line x1="317.5" y1="148.1" x2="327.5" y2="148.1" stroke="#f00" stroke-width="1.6"/>
<circle cx="322.5" cy="138.0" r="0.8" fill="#f00"/>
<line x1="319.9" y1="133.4" x2="325.1" y2="133.4" stroke="#00f" stroke-width="1.6"/>
<line x1="321.1" y1="142.8" x2="323.9" y2="142.8" stroke="#a020f0" stroke-width="1.4"/>
<rect x="331.7" y="134.7" width="12.6" height="9.5" fill="none" stroke="#555" stroke-width="0.8"/>
<line x1="331.7" y1="141.5" x2="344.3" y2="141.5" stroke="#111" stroke-width="1.6"/>
<line x1="338.0" y1="134.7" x2="338.0" y2="126.1" stroke="#333" stroke-width="0.75" stroke-dasharray="1.5 1.1"/>
<line x1="334.8" y1="126.1" x2="341.1" y2="126.1" stroke="#777" stroke-width="0.8"/>
<rect x="333.0" y="144.2" width="10.0" height="5.0" fill="none" stroke="#f00" stroke-width="0.65"/>
<line x1="333.0" y1="146.5" x2="343.0" y2="146.5" stroke="#f00" stroke-width="1.6"/>
<circle cx="338.0" cy="136.1" r="0.8" fill="#f00"/>
<line x1="336.0" y1="146.2" x2="340.0" y2="146.2" stroke="#a020f0" stroke-width="1.4"/>
<line x1="335.8" y1="149.6" x2="340.2" y2="149.6" stroke="#00f" stroke-width="1.6"/>
<rect x="347.2" y="131.1" width="12.6" height="7.0" fill="none" stroke="#555" stroke-width="0.8"/>
<line x1="347.2" y1="134.7" x2="359.8" y2="134.7" stroke="#111" stroke-width="1.6"/>
<line x1="353.5" y1="131.1" x2="353.5" y2="127.5" stroke="#333" stroke-width="0.75" stroke-dasharray="1.5 1.1"/>
<line x1="350.3" y1="127.5" x2="356.6" y2="127.5" stroke="#777" stroke-width="0.8"/>
<rect x="348.5" y="142.1" width="10.0" height="6.7" fill="none" stroke="#f00" stroke-width="0.65"/>
<line x1="348.5" y1="146.2" x2="358.5" y2="146.2" stroke="#f00" stroke-width="1.6"/>
<circle cx="353.5" cy="113.0" r="0.8" fill="#f00"/>
<line x1="352.0" y1="141.1" x2="355.0" y2="141.1" stroke="#a020f0" stroke-width="1.2"/>
<line x1="362.6" y1="134.7" x2="375.2" y2="134.7" stroke="#111" stroke-width="2.2"/>
<rect x="363.9" y="135.1" width="10.0" height="13.1" fill="none" stroke="#f00" stroke-width="0.65"/>
<line x1="363.9" y1="141.0" x2="373.9" y2="141.0" stroke="#f00" stroke-width="1.6"/>
<line x1="368.9" y1="135.1" x2="368.9" y2="126.1" stroke="#f00" stroke-width="0.75" stroke-dasharray="1.5 1.1"/>
<line x1="366.4" y1="126.1" x2="371.4" y2="126.1" stroke="#f00" stroke-width="0.8"/>
<circle cx="368.9" cy="130.1" r="0.8" fill="#f00"/>
<rect x="366.3" y="141.1" width="5.2" height="2.5" fill="#00f" stroke="#00f" stroke-width="0.65"/>
<line x1="366.3" y1="142.3" x2="371.5" y2="142.3" stroke="#00f" stroke-width="1.6"/>
<rect x="378.1" y="123.1" width="12.6" height="8.0" fill="none" stroke="#555" stroke-width="0.8"/>
<line x1="378.1" y1="126.1" x2="390.7" y2="126.1" stroke="#111" stroke-width="1.6"/>
<line x1="384.4" y1="123.1" x2="384.4" y2="121.5" stroke="#333" stroke-width="0.75" stroke-dasharray="1.5 1.1"/>
<line x1="381.3" y1="121.5" x2="387.6" y2="121.5" stroke="#777" stroke-width="0.8"/>
<rect x="379.4" y="139.1" width="10.0" height="9.7" fill="none" stroke="#f00" stroke-width="0.65"/>
<line x1="379.4" y1="146.2" x2="389.4" y2="146.2" stroke="#f00" stroke-width="1.6"/>
<circle cx="384.4" cy="133.1" r="0.8" fill="#f00"/>
<rect x="381.8" y="140.1" width="5.2" height="3.1" fill="none" stroke="#a020f0" stroke-width="0.65"/>
<line x1="381.8" y1="141.6" x2="387.0" y2="141.6" stroke="#a020f0" stroke-width="1.6"/>
<line x1="382.4" y1="146.2" x2="386.4" y2="146.2" stroke="#00f" stroke-width="1.2"/>
<rect x="394.9" y="142.0" width="10.0" height="8.0" fill="none" stroke="#f00" stroke-width="0.65"/>
<line x1="394.9" y1="146.1" x2="404.9" y2="146.1" stroke="#f00" stroke-width="1.6"/>
<circle cx="399.9" cy="117.9" r="0.8" fill="#f00"/>
<line x1="398.4" y1="140.8" x2="401.4" y2="140.8" stroke="#a020f0" stroke-width="1.2"/>
<line x1="397.3" y1="150.0" x2="402.5" y2="150.0" stroke="#00f" stroke-width="1.6"/>
<rect x="409.1" y="135.6" width="12.6" height="4.1" fill="none" stroke="#555" stroke-width="0.8"/>
<line x1="409.1" y1="137.6" x2="421.7" y2="137.6" stroke="#111" stroke-width="1.6"/>
<line x1="412.8" y1="130.7" x2="418.0" y2="130.7" stroke="#00f" stroke-width="1.3"/>
<line x1="412.8" y1="142.8" x2="418.0" y2="142.8" stroke="#00f" stroke-width="1.0"/>
<rect x="410.4" y="143.2" width="10.0" height="5.3" fill="none" stroke="#f00" stroke-width="0.65"/>
<line x1="410.4" y1="145.3" x2="420.4" y2="145.3" stroke="#f00" stroke-width="1.6"/>
<circle cx="415.4" cy="102.7" r="0.8" fill="#f00"/>
<line x1="424.6" y1="139.7" x2="437.2" y2="139.7" stroke="#111" stroke-width="1.6"/>
<line x1="428.9" y1="139.7" x2="432.9" y2="139.7" stroke="#a020f0" stroke-width="1.0"/>
<rect x="440.0" y="139.4" width="12.6" height="1.7" fill="none" stroke="#555" stroke-width="0.8"/>
<line x1="440.0" y1="140.2" x2="452.6" y2="140.2" stroke="#111" stroke-width="1.6"/>
<line x1="446.3" y1="139.4" x2="446.3" y2="136.3" stroke="#333" stroke-width="0.75" stroke-dasharray="1.5 1.1"/>
<line x1="443.2" y1="136.3" x2="449.5" y2="136.3" stroke="#777" stroke-width="0.8"/>
<rect x="441.3" y="141.1" width="10.0" height="6.0" fill="none" stroke="#f00" stroke-width="0.65"/>
<line x1="441.3" y1="145.5" x2="451.3" y2="145.5" stroke="#f00" stroke-width="1.6"/>
<circle cx="446.3" cy="119.0" r="0.8" fill="#f00"/>
<rect x="443.7" y="142.0" width="5.2" height="3.4" fill="none" stroke="#00f" stroke-width="0.65"/>
<line x1="443.7" y1="143.8" x2="448.9" y2="143.8" stroke="#00f" stroke-width="1.6"/>
<line x1="491.9" y1="150.1" x2="504.3" y2="150.1" stroke="#f00" stroke-width="1.6"/>
<rect x="507.3" y="146.4" width="12.4" height="3.7" fill="none" stroke="#f00" stroke-width="0.65"/>
<line x1="507.3" y1="149.7" x2="519.7" y2="149.7" stroke="#f00" stroke-width="1.6"/>
<line x1="522.8" y1="149.8" x2="535.2" y2="149.8" stroke="#f00" stroke-width="1.6"/>
<line x1="529.0" y1="149.8" x2="529.0" y2="147.9" stroke="#f00" stroke-width="0.7"/>
<line x1="525.9" y1="147.9" x2="532.1" y2="147.9" stroke="#f00" stroke-width="0.7"/>
<rect x="538.3" y="148.0" width="12.4" height="1.8" fill="#f00" stroke="#f00" stroke-width="0.65"/>
<line x1="538.3" y1="149.3" x2="550.7" y2="149.3" stroke="#f00" stroke-width="1.6"/>
<line x1="544.5" y1="148.0" x2="544.5" y2="146.2" stroke="#f00" stroke-width="0.75" stroke-dasharray="1.5 1.1"/>
<line x1="541.4" y1="146.2" x2="547.6" y2="146.2" stroke="#f00" stroke-width="0.8"/>
<rect x="553.7" y="123.6" width="12.6" height="16.8" fill="none" stroke="#555" stroke-width="0.8"/>
<line x1="553.7" y1="131.3" x2="566.3" y2="131.3" stroke="#111" stroke-width="1.6"/>
<line x1="560.0" y1="123.6" x2="560.0" y2="123.0" stroke="#333" stroke-width="0.75" stroke-dasharray="1.5 1.1"/>
<line x1="556.8" y1="123.0" x2="563.1" y2="123.0" stroke="#777" stroke-width="0.8"/>
<line x1="560.0" y1="140.4" x2="560.0" y2="140.6" stroke="#333" stroke-width="0.75" stroke-dasharray="1.5 1.1"/>
<line x1="556.8" y1="140.6" x2="563.1" y2="140.6" stroke="#777" stroke-width="0.8"/>
<line x1="553.8" y1="150.1" x2="566.2" y2="150.1" stroke="#f00" stroke-width="1.6"/>
<line x1="560.0" y1="150.1" x2="560.0" y2="147.9" stroke="#f00" stroke-width="0.7"/>
<line x1="556.9" y1="147.9" x2="563.1" y2="147.9" stroke="#f00" stroke-width="0.7"/>
<rect x="569.2" y="132.6" width="12.6" height="12.7" fill="none" stroke="#555" stroke-width="0.8"/>
<line x1="569.2" y1="141.1" x2="581.8" y2="141.1" stroke="#111" stroke-width="1.6"/>
<line x1="575.5" y1="132.6" x2="575.5" y2="117.2" stroke="#333" stroke-width="0.75" stroke-dasharray="1.5 1.1"/>
<line x1="572.3" y1="117.2" x2="578.6" y2="117.2" stroke="#777" stroke-width="0.8"/>
<line x1="575.5" y1="145.3" x2="575.5" y2="146.2" stroke="#333" stroke-width="0.75" stroke-dasharray="1.5 1.1"/>
<line x1="572.3" y1="146.2" x2="578.6" y2="146.2" stroke="#777" stroke-width="0.8"/>
<line x1="569.3" y1="148.9" x2="581.7" y2="148.9" stroke="#f00" stroke-width="2.0"/>
<rect x="584.6" y="123.1" width="12.6" height="7.6" fill="none" stroke="#555" stroke-width="0.8"/>
<line x1="584.6" y1="127.1" x2="597.2" y2="127.1" stroke="#111" stroke-width="1.6"/>
<line x1="590.9" y1="123.1" x2="590.9" y2="119.1" stroke="#333" stroke-width="0.75" stroke-dasharray="1.5 1.1"/>
<line x1="587.8" y1="119.1" x2="594.1" y2="119.1" stroke="#777" stroke-width="0.8"/>
<line x1="590.9" y1="130.7" x2="590.9" y2="133.7" stroke="#333" stroke-width="0.75" stroke-dasharray="1.5 1.1"/>
<line x1="587.8" y1="133.7" x2="594.1" y2="133.7" stroke="#777" stroke-width="0.8"/>
<rect x="584.7" y="147.2" width="12.4" height="3.0" fill="#f00" stroke="#f00" stroke-width="0.65"/>
<line x1="584.7" y1="149.2" x2="597.1" y2="149.2" stroke="#f00" stroke-width="1.6"/>
<line x1="590.9" y1="147.2" x2="590.9" y2="145.6" stroke="#f00" stroke-width="0.75" stroke-dasharray="1.5 1.1"/>
<line x1="587.8" y1="145.6" x2="594.0" y2="145.6" stroke="#f00" stroke-width="0.8"/>
<line x1="600.2" y1="149.6" x2="612.6" y2="149.6" stroke="#f00" stroke-width="1.6"/>
<line x1="631.1" y1="115.0" x2="643.7" y2="115.0" stroke="#111" stroke-width="2.0"/>
<rect x="662.0" y="129.5" width="12.6" height="6.6" fill="none" stroke="#555" stroke-width="0.8"/>
<line x1="662.0" y1="131.1" x2="674.6" y2="131.1" stroke="#111" stroke-width="1.6"/>
<line x1="668.3" y1="129.5" x2="668.3" y2="124.5" stroke="#333" stroke-width="0.75" stroke-dasharray="1.5 1.1"/>
<line x1="665.2" y1="124.5" x2="671.5" y2="124.5" stroke="#777" stroke-width="0.8"/>
<line x1="668.3" y1="136.1" x2="668.3" y2="139.1" stroke="#333" stroke-width="0.75" stroke-dasharray="1.5 1.1"/>
<line x1="665.2" y1="139.1" x2="671.5" y2="139.1" stroke="#777" stroke-width="0.8"/>
<line x1="662.1" y1="147.8" x2="674.5" y2="147.8" stroke="#f00" stroke-width="1.6"/>
<line x1="63.3" y1="219.8" x2="75.9" y2="219.8" stroke="#111" stroke-width="2.0"/>
<circle cx="69.6" cy="208.9" r="0.8" fill="#111"/>
<circle cx="69.6" cy="212.9" r="0.8" fill="#111"/>
<rect x="66.3" y="221.2" width="6.6" height="2.0" fill="#00f" stroke="#00f" stroke-width="0.65"/>
<line x1="66.3" y1="222.2" x2="72.9" y2="222.2" stroke="#00f" stroke-width="1.6"/>
<line x1="64.6" y1="223.9" x2="74.6" y2="223.9" stroke="#f00" stroke-width="1.6"/>
<rect x="78.8" y="212.2" width="12.6" height="4.3" fill="none" stroke="#555" stroke-width="0.8"/>
<line x1="78.8" y1="214.6" x2="91.4" y2="214.6" stroke="#111" stroke-width="1.6"/>
<line x1="95.6" y1="223.9" x2="105.6" y2="223.9" stroke="#f00" stroke-width="1.6"/>
<circle cx="100.6" cy="222.2" r="0.8" fill="#f00"/>
<rect x="97.6" y="222.6" width="6.0" height="1.0" fill="#00f" stroke="#00f" stroke-width="0.65"/>
<line x1="97.6" y1="223.2" x2="103.6" y2="223.2" stroke="#00f" stroke-width="1.6"/>
<rect x="109.8" y="213.3" width="12.6" height="2.9" fill="none" stroke="#555" stroke-width="0.8"/>
<line x1="109.8" y1="214.8" x2="122.4" y2="214.8" stroke="#111" stroke-width="1.6"/>
<line x1="116.1" y1="213.3" x2="116.1" y2="210.6" stroke="#333" stroke-width="0.75" stroke-dasharray="1.5 1.1"/>
<line x1="112.9" y1="210.6" x2="119.2" y2="210.6" stroke="#777" stroke-width="0.8"/>
<circle cx="116.1" cy="200.3" r="0.8" fill="#111"/>
<circle cx="116.1" cy="206.7" r="0.8" fill="#111"/>
<rect x="111.1" y="218.9" width="10.0" height="5.5" fill="none" stroke="#f00" stroke-width="0.65"/>
<line x1="111.1" y1="220.9" x2="121.1" y2="220.9" stroke="#f00" stroke-width="1.6"/>
<line x1="113.5" y1="224.8" x2="118.7" y2="224.8" stroke="#00f" stroke-width="1.6"/>
<rect x="125.3" y="210.3" width="12.6" height="3.0" fill="none" stroke="#555" stroke-width="0.8"/>
<line x1="125.3" y1="212.0" x2="137.9" y2="212.0" stroke="#111" stroke-width="1.6"/>
<line x1="131.6" y1="210.3" x2="131.6" y2="209.3" stroke="#333" stroke-width="0.75" stroke-dasharray="1.5 1.1"/>
<line x1="128.4" y1="209.3" x2="134.7" y2="209.3" stroke="#777" stroke-width="0.8"/>
<rect x="144.4" y="217.5" width="5.2" height="3.8" fill="none" stroke="#00f" stroke-width="0.65"/>
<line x1="144.4" y1="219.4" x2="149.6" y2="219.4" stroke="#00f" stroke-width="1.6"/>
<line x1="142.0" y1="224.4" x2="152.0" y2="224.4" stroke="#f00" stroke-width="1.6"/>
<rect x="159.9" y="219.8" width="5.2" height="1.8" fill="#00f" stroke="#00f" stroke-width="0.65"/>
<line x1="159.9" y1="220.7" x2="165.1" y2="220.7" stroke="#00f" stroke-width="1.6"/>
<line x1="162.5" y1="219.8" x2="162.5" y2="218.9" stroke="#00f" stroke-width="0.75" stroke-dasharray="1.5 1.1"/>
<line x1="161.2" y1="218.9" x2="163.8" y2="218.9" stroke="#00f" stroke-width="0.8"/>
<line x1="157.5" y1="224.4" x2="167.5" y2="224.4" stroke="#f00" stroke-width="1.6"/>
<rect x="175.4" y="219.8" width="5.2" height="2.5" fill="#00f" stroke="#00f" stroke-width="0.65"/>
<line x1="175.4" y1="221.0" x2="180.6" y2="221.0" stroke="#00f" stroke-width="1.6"/>
<line x1="178.0" y1="219.8" x2="178.0" y2="219.0" stroke="#00f" stroke-width="0.75" stroke-dasharray="1.5 1.1"/>
<line x1="176.7" y1="219.0" x2="179.3" y2="219.0" stroke="#00f" stroke-width="0.8"/>
<line x1="173.0" y1="223.9" x2="183.0" y2="223.9" stroke="#f00" stroke-width="1.6"/>
<rect x="190.5" y="220.8" width="6.0" height="1.4" fill="#00f" stroke="#00f" stroke-width="0.65"/>
<line x1="190.5" y1="221.5" x2="196.5" y2="221.5" stroke="#00f" stroke-width="1.6"/>
<line x1="188.5" y1="224.4" x2="198.5" y2="224.4" stroke="#f00" stroke-width="1.6"/>
<rect x="206.4" y="221.2" width="5.2" height="1.6" fill="#00f" stroke="#00f" stroke-width="0.65"/>
<line x1="206.4" y1="222.0" x2="211.6" y2="222.0" stroke="#00f" stroke-width="1.6"/>
<line x1="204.0" y1="223.1" x2="214.0" y2="223.1" stroke="#f00" stroke-width="1.6"/>
<line x1="218.1" y1="215.4" x2="230.7" y2="215.4" stroke="#111" stroke-width="2.2"/>
<line x1="224.4" y1="215.4" x2="224.4" y2="212.2" stroke="#111" stroke-width="0.7"/>
<line x1="221.3" y1="212.2" x2="227.6" y2="212.2" stroke="#111" stroke-width="0.7"/>
<line x1="224.4" y1="215.4" x2="224.4" y2="218.6" stroke="#111" stroke-width="0.7"/>
<line x1="221.3" y1="218.6" x2="227.6" y2="218.6" stroke="#111" stroke-width="0.7"/>
<rect x="221.4" y="220.2" width="6.0" height="2.7" fill="#00f" stroke="#00f" stroke-width="0.65"/>
<line x1="221.4" y1="221.6" x2="227.4" y2="221.6" stroke="#00f" stroke-width="1.6"/>
<line x1="219.4" y1="224.4" x2="229.4" y2="224.4" stroke="#f00" stroke-width="1.6"/>
<line x1="286.5" y1="222.1" x2="296.5" y2="222.1" stroke="#f00" stroke-width="1.6"/>
<rect x="288.9" y="222.1" width="5.2" height="2.6" fill="none" stroke="#00f" stroke-width="0.65"/>
<line x1="288.9" y1="223.4" x2="294.1" y2="223.4" stroke="#00f" stroke-width="1.6"/>
<line x1="291.4" y1="215.7" x2="291.6" y2="215.7" stroke="#a020f0" stroke-width="0.1"/>
<circle cx="291.5" cy="215.7" r="0.8" fill="#a020f0"/>
<line x1="302.0" y1="223.3" x2="312.0" y2="223.3" stroke="#f00" stroke-width="2.2"/>
<rect x="304.4" y="218.2" width="5.2" height="3.1" fill="none" stroke="#00f" stroke-width="0.65"/>
<line x1="304.4" y1="219.8" x2="309.6" y2="219.8" stroke="#00f" stroke-width="1.6"/>
<line x1="306.9" y1="214.0" x2="307.1" y2="214.0" stroke="#a020f0" stroke-width="0.1"/>
<circle cx="307.0" cy="214.0" r="0.8" fill="#a020f0"/>
<rect x="316.2" y="218.2" width="12.6" height="6.2" fill="none" stroke="#555" stroke-width="0.8"/>
<line x1="316.2" y1="224.0" x2="328.8" y2="224.0" stroke="#111" stroke-width="1.6"/>
<line x1="322.5" y1="218.2" x2="322.5" y2="213.0" stroke="#333" stroke-width="0.75" stroke-dasharray="1.5 1.1"/>
<line x1="319.4" y1="213.0" x2="325.7" y2="213.0" stroke="#777" stroke-width="0.8"/>
<line x1="317.5" y1="205.4" x2="327.5" y2="205.4" stroke="#f00" stroke-width="2.0"/>
<circle cx="322.5" cy="201.9" r="0.8" fill="#f00"/>
<rect x="319.9" y="220.4" width="5.2" height="3.5" fill="none" stroke="#00f" stroke-width="0.65"/>
<line x1="319.9" y1="222.2" x2="325.1" y2="222.2" stroke="#00f" stroke-width="1.6"/>
<rect x="331.7" y="206.1" width="12.6" height="8.3" fill="none" stroke="#555" stroke-width="0.8"/>
<line x1="331.7" y1="210.0" x2="344.3" y2="210.0" stroke="#111" stroke-width="1.6"/>
<line x1="338.0" y1="206.1" x2="338.0" y2="193.3" stroke="#333" stroke-width="0.75" stroke-dasharray="1.5 1.1"/>
<line x1="334.8" y1="193.3" x2="341.1" y2="193.3" stroke="#777" stroke-width="0.8"/>
<circle cx="338.0" cy="178.6" r="0.8" fill="#111"/>
<rect x="333.0" y="213.5" width="10.0" height="5.7" fill="none" stroke="#f00" stroke-width="0.65"/>
<line x1="333.0" y1="217.0" x2="343.0" y2="217.0" stroke="#f00" stroke-width="1.6"/>
<rect x="335.4" y="218.7" width="5.2" height="5.2" fill="none" stroke="#00f" stroke-width="0.65"/>
<line x1="335.4" y1="223.0" x2="340.6" y2="223.0" stroke="#00f" stroke-width="1.6"/>
<rect x="347.2" y="200.5" width="12.6" height="10.7" fill="none" stroke="#555" stroke-width="0.8"/>
<line x1="347.2" y1="209.0" x2="359.8" y2="209.0" stroke="#111" stroke-width="1.6"/>
<line x1="353.5" y1="200.5" x2="353.5" y2="195.2" stroke="#333" stroke-width="0.75" stroke-dasharray="1.5 1.1"/>
<line x1="350.3" y1="195.2" x2="356.6" y2="195.2" stroke="#777" stroke-width="0.8"/>
<rect x="348.5" y="211.2" width="10.0" height="10.2" fill="none" stroke="#f00" stroke-width="0.65"/>
<line x1="348.5" y1="215.0" x2="358.5" y2="215.0" stroke="#f00" stroke-width="1.6"/>
<line x1="353.5" y1="211.2" x2="353.5" y2="196.3" stroke="#f00" stroke-width="0.75" stroke-dasharray="1.5 1.1"/>
<line x1="351.0" y1="196.3" x2="356.0" y2="196.3" stroke="#f00" stroke-width="0.8"/>
<rect x="350.9" y="216.5" width="5.2" height="4.2" fill="#00f" stroke="#00f" stroke-width="0.65"/>
<line x1="350.9" y1="219.0" x2="356.1" y2="219.0" stroke="#00f" stroke-width="1.6"/>
<line x1="362.6" y1="201.0" x2="375.2" y2="201.0" stroke="#111" stroke-width="2.2"/>
<circle cx="368.9" cy="189.5" r="0.8" fill="#111"/>
<rect x="363.9" y="205.2" width="10.0" height="13.4" fill="none" stroke="#f00" stroke-width="0.65"/>
<line x1="363.9" y1="208.0" x2="373.9" y2="208.0" stroke="#f00" stroke-width="1.6"/>
<circle cx="368.9" cy="179.7" r="0.8" fill="#f00"/>
<rect x="366.3" y="218.6" width="5.2" height="5.3" fill="none" stroke="#00f" stroke-width="0.65"/>
<line x1="366.3" y1="222.5" x2="371.5" y2="222.5" stroke="#00f" stroke-width="1.6"/>
<rect x="378.1" y="201.6" width="12.6" height="7.4" fill="none" stroke="#555" stroke-width="0.8"/>
<line x1="378.1" y1="208.6" x2="390.7" y2="208.6" stroke="#111" stroke-width="1.6"/>
<line x1="384.4" y1="201.6" x2="384.4" y2="195.9" stroke="#333" stroke-width="0.75" stroke-dasharray="1.5 1.1"/>
<line x1="381.3" y1="195.9" x2="387.6" y2="195.9" stroke="#777" stroke-width="0.8"/>
<line x1="384.4" y1="209.0" x2="384.4" y2="210.1" stroke="#333" stroke-width="0.75" stroke-dasharray="1.5 1.1"/>
<line x1="381.3" y1="210.1" x2="387.6" y2="210.1" stroke="#777" stroke-width="0.8"/>
<line x1="379.4" y1="221.4" x2="389.4" y2="221.4" stroke="#f00" stroke-width="2.0"/>
<rect x="381.8" y="217.6" width="5.2" height="5.3" fill="none" stroke="#00f" stroke-width="0.65"/>
<line x1="381.8" y1="220.5" x2="387.0" y2="220.5" stroke="#00f" stroke-width="1.6"/>
<line x1="382.6" y1="219.5" x2="386.2" y2="219.5" stroke="#a020f0" stroke-width="1.0"/>
<line x1="393.6" y1="188.2" x2="406.2" y2="188.2" stroke="#111" stroke-width="2.0"/>
<line x1="394.9" y1="220.8" x2="404.9" y2="220.8" stroke="#f00" stroke-width="2.0"/>
<rect x="397.3" y="216.1" width="5.2" height="7.2" fill="none" stroke="#00f" stroke-width="0.65"/>
<line x1="397.3" y1="220.0" x2="402.5" y2="220.0" stroke="#00f" stroke-width="1.6"/>
<line x1="399.9" y1="216.1" x2="399.9" y2="210.0" stroke="#00f" stroke-width="0.75" stroke-dasharray="1.5 1.1"/>
<line x1="398.6" y1="210.0" x2="401.2" y2="210.0" stroke="#00f" stroke-width="0.8"/>
<rect x="412.8" y="214.4" width="5.2" height="6.0" fill="none" stroke="#00f" stroke-width="0.65"/>
<line x1="412.8" y1="217.4" x2="418.0" y2="217.4" stroke="#00f" stroke-width="1.6"/>
<line x1="415.4" y1="214.4" x2="415.4" y2="209.2" stroke="#00f" stroke-width="0.75" stroke-dasharray="1.5 1.1"/>
<line x1="414.1" y1="209.2" x2="416.7" y2="209.2" stroke="#00f" stroke-width="0.8"/>
<line x1="410.4" y1="222.1" x2="420.4" y2="222.1" stroke="#f00" stroke-width="2.0"/>
<line x1="425.9" y1="221.8" x2="435.9" y2="221.8" stroke="#f00" stroke-width="1.6"/>
<circle cx="430.9" cy="199.2" r="0.8" fill="#f00"/>
<rect x="428.3" y="218.7" width="5.2" height="3.4" fill="#00f" stroke="#00f" stroke-width="0.65"/>
<line x1="428.3" y1="220.4" x2="433.5" y2="220.4" stroke="#00f" stroke-width="1.6"/>
<rect x="443.7" y="213.0" width="5.2" height="6.5" fill="none" stroke="#00f" stroke-width="0.65"/>
<line x1="443.7" y1="216.2" x2="448.9" y2="216.2" stroke="#00f" stroke-width="1.6"/>
<line x1="446.3" y1="213.0" x2="446.3" y2="210.6" stroke="#00f" stroke-width="0.75" stroke-dasharray="1.5 1.1"/>
<line x1="445.0" y1="210.6" x2="447.6" y2="210.6" stroke="#00f" stroke-width="0.8"/>
<line x1="441.3" y1="222.7" x2="451.3" y2="222.7" stroke="#f00" stroke-width="2.0"/>
<line x1="491.8" y1="208.9" x2="504.4" y2="208.9" stroke="#555" stroke-width="1.8"/>
<line x1="507.3" y1="223.4" x2="519.7" y2="223.4" stroke="#f00" stroke-width="1.6"/>
<line x1="522.7" y1="213.6" x2="535.3" y2="213.6" stroke="#333" stroke-width="1.8"/>
<rect x="553.7" y="196.4" width="12.6" height="6.1" fill="none" stroke="#555" stroke-width="0.8"/>
<line x1="553.7" y1="200.1" x2="566.3" y2="200.1" stroke="#111" stroke-width="1.6"/>
<line x1="560.0" y1="196.4" x2="560.0" y2="190.3" stroke="#333" stroke-width="0.75" stroke-dasharray="1.5 1.1"/>
<line x1="556.8" y1="190.3" x2="563.1" y2="190.3" stroke="#777" stroke-width="0.8"/>
<line x1="560.0" y1="202.5" x2="560.0" y2="209.9" stroke="#333" stroke-width="0.75" stroke-dasharray="1.5 1.1"/>
<line x1="556.8" y1="209.9" x2="563.1" y2="209.9" stroke="#777" stroke-width="0.8"/>
<circle cx="560.0" cy="179.3" r="0.8" fill="#111"/>
<circle cx="560.0" cy="181.0" r="0.8" fill="#111"/>
<circle cx="560.0" cy="183.0" r="0.8" fill="#111"/>
<line x1="553.8" y1="224.1" x2="566.2" y2="224.1" stroke="#f00" stroke-width="1.6"/>
<line x1="569.2" y1="210.1" x2="581.8" y2="210.1" stroke="#444" stroke-width="1.8"/>
<line x1="569.3" y1="223.4" x2="581.7" y2="223.4" stroke="#f00" stroke-width="1.6"/>
<rect x="631.1" y="178.0" width="12.6" height="6.6" fill="none" stroke="#555" stroke-width="0.8"/>
<line x1="631.1" y1="181.2" x2="643.7" y2="181.2" stroke="#111" stroke-width="1.6"/>
<line x1="637.4" y1="178.0" x2="637.4" y2="176.3" stroke="#333" stroke-width="0.75" stroke-dasharray="1.5 1.1"/>
<line x1="634.2" y1="176.3" x2="640.5" y2="176.3" stroke="#777" stroke-width="0.8"/>
<line x1="637.4" y1="184.6" x2="637.4" y2="188.6" stroke="#333" stroke-width="0.75" stroke-dasharray="1.5 1.1"/>
<line x1="634.2" y1="188.6" x2="640.5" y2="188.6" stroke="#777" stroke-width="0.8"/>
<circle cx="637.4" cy="206.2" r="0.8" fill="#111"/>
<rect x="646.6" y="201.8" width="12.6" height="3.2" fill="none" stroke="#555" stroke-width="0.8"/>
<line x1="646.6" y1="203.4" x2="659.2" y2="203.4" stroke="#111" stroke-width="1.6"/>
<line x1="652.9" y1="201.8" x2="652.9" y2="198.9" stroke="#333" stroke-width="0.75" stroke-dasharray="1.5 1.1"/>
<line x1="649.7" y1="198.9" x2="656.0" y2="198.9" stroke="#777" stroke-width="0.8"/>
<line x1="652.9" y1="205.0" x2="652.9" y2="207.4" stroke="#333" stroke-width="0.75" stroke-dasharray="1.5 1.1"/>
<line x1="649.7" y1="207.4" x2="656.0" y2="207.4" stroke="#777" stroke-width="0.8"/>
<circle cx="652.9" cy="209.0" r="0.8" fill="#111"/>
<circle cx="652.9" cy="211.1" r="0.8" fill="#111"/>
<text transform="translate(139.3,247.6) scale(1,1.04)" font-size="9.6" text-anchor="middle">Month of the Year</text>
<text transform="translate(362.4,247.6) scale(1,1.04)" font-size="9.6" text-anchor="middle">Month of the Year</text>
<text transform="translate(583.2,247.6) scale(1,1.04)" font-size="9.6" text-anchor="middle">Month of the Year</text>
</svg>
</body></html>
